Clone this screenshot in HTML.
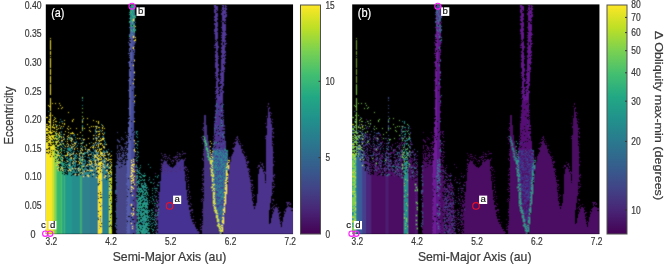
<!DOCTYPE html>
<html><head><meta charset="utf-8"><title>Obliquity maps</title>
<style>
html,body{margin:0;padding:0;background:#fff;width:665px;height:265px;overflow:hidden}
svg{display:block}
text{font-family:"Liberation Sans",Arial,sans-serif;fill:#3a3a3a;stroke:#3a3a3a;stroke-width:0.22px}
.w{fill:#fff;stroke:#fff}
</style></head><body>
<svg width="665" height="265" viewBox="0 0 665 265">
<defs><linearGradient id="vir" x1="0" y1="0" x2="0" y2="1"><stop offset="0" stop-color="#fde725"/><stop offset="0.1" stop-color="#bddf26"/><stop offset="0.2" stop-color="#7ad151"/><stop offset="0.3" stop-color="#44bf70"/><stop offset="0.4" stop-color="#22a884"/><stop offset="0.5" stop-color="#21918c"/><stop offset="0.6" stop-color="#2a788e"/><stop offset="0.7" stop-color="#355f8d"/><stop offset="0.8" stop-color="#414487"/><stop offset="0.9" stop-color="#482475"/><stop offset="1" stop-color="#440154"/></linearGradient>
<filter id="soft" x="0" y="0" width="1" height="1"><feConvolveMatrix order="3" kernelMatrix="0.04 0.1 0.04 0.1 0.44 0.1 0.04 0.1 0.04" edgeMode="duplicate" preserveAlpha="false"/></filter>
<clipPath id="ca"><rect x="46" y="5" width="247" height="229"/></clipPath>
<clipPath id="cb"><rect x="352" y="5" width="247" height="229"/></clipPath></defs>
<rect width="665" height="265" fill="#fff"/>

<rect x="45.8" y="4.4" width="247.25" height="229.7" fill="#000"/>
<g clip-path="url(#ca)"><g stroke-width="1" fill="none" filter="url(#soft)"><path stroke="#f9e721" d="M46.5 109v1M46.5 112v2M46.5 126v1M46.5 130v2M46.5 138v1M46.5 142v2M46.5 145v2M46.5 149v1M46.5 152v1M46.5 155v79M47.5 117v1M47.5 124v1M47.5 126v1M47.5 128v3M47.5 132v1M47.5 136v1M47.5 138v1M47.5 140v1M47.5 143v6M47.5 150v2M47.5 153v81M48.5 105v1M48.5 121v1M48.5 126v2M48.5 130v1M48.5 132v1M48.5 134v2M48.5 137v1M48.5 139v1M48.5 141v2M48.5 144v1M48.5 146v2M48.5 149v4M48.5 154v80M49.5 106v1M49.5 115v1M49.5 119v1M49.5 121v2M49.5 125v1M49.5 131v2M49.5 135v4M49.5 140v3M49.5 146v1M49.5 150v1M49.5 153v81M50.5 38v1M50.5 40v10M50.5 51v4M50.5 56v1M50.5 58v10M50.5 69v6M50.5 76v7M50.5 84v11M50.5 98v13M50.5 112v22M50.5 136v9M50.5 146v10M50.5 157v77M51.5 132v2M51.5 135v1M51.5 138v2M51.5 142v1M51.5 144v1M51.5 146v2M51.5 149v1M51.5 151v1M51.5 155v79M52.5 103v1M52.5 115v1M52.5 126v2M52.5 132v1M52.5 136v2M52.5 145v1M52.5 147v2M52.5 153v2M52.5 156v1M53.5 120v1M53.5 122v1M53.5 124v1M53.5 131v1M53.5 135v1M53.5 137v2M53.5 145v1M53.5 148v2M54.5 119v1M54.5 127v2M54.5 131v1M54.5 135v1M54.5 146v1M54.5 148v1M54.5 159v1M55.5 103v1M55.5 118v1M55.5 121v1M55.5 124v1M55.5 138v1M55.5 147v1M55.5 149v1M56.5 121v1M56.5 126v2M56.5 129v1M56.5 131v1M56.5 134v1M56.5 138v2M56.5 142v2M56.5 150v1M56.5 154v1M56.5 157v1M56.5 165v1M57.5 141v1M57.5 145v1M57.5 150v1M57.5 155v1M57.5 162v1M57.5 164v1M57.5 168v1M58.5 108v1M58.5 128v1M58.5 134v1M58.5 140v1M58.5 145v1M58.5 152v1M58.5 155v1M58.5 159v1M58.5 163v1M58.5 165v1M58.5 167v1M58.5 170v1M59.5 103v1M59.5 125v1M59.5 132v2M59.5 135v2M59.5 142v1M59.5 155v1M59.5 162v1M60.5 105v1M60.5 128v1M60.5 144v1M60.5 152v1M60.5 169v1M61.5 108v1M61.5 126v1M61.5 137v1M61.5 140v1M61.5 148v1M61.5 167v1M62.5 107v1M62.5 123v1M62.5 140v1M62.5 157v1M62.5 160v1M62.5 168v1M62.5 170v1M63.5 126v1M63.5 137v1M63.5 139v1M63.5 143v1M64.5 120v1M64.5 123v2M64.5 134v1M65.5 131v1M65.5 146v1M65.5 155v1M66.5 155v1M67.5 128v1M67.5 136v1M67.5 139v1M67.5 141v1M67.5 143v1M67.5 146v1M67.5 153v3M67.5 161v1M68.5 112v1M68.5 126v1M68.5 129v1M68.5 132v1M68.5 135v1M68.5 137v1M68.5 144v1M68.5 152v1M68.5 170v1M69.5 165v1M69.5 169v1M70.5 128v1M70.5 133v1M70.5 145v1M70.5 155v1M70.5 170v1M71.5 133v1M71.5 138v1M71.5 140v2M71.5 147v1M71.5 154v1M71.5 157v2M72.5 120v2M72.5 132v2M72.5 139v1M72.5 144v1M72.5 163v1M72.5 168v1M73.5 119v1M73.5 133v1M73.5 146v1M73.5 153v1M73.5 158v1M73.5 161v1M74.5 143v1M74.5 145v1M74.5 148v2M75.5 143v1M75.5 168v1M75.5 174v1M76.5 128v1M76.5 153v1M76.5 161v1M77.5 134v1M77.5 138v1M77.5 148v1M78.5 161v1M78.5 168v1M78.5 170v1M78.5 174v1M79.5 138v1M79.5 153v1M79.5 155v1M79.5 158v1M79.5 162v2M80.5 132v1M80.5 150v1M80.5 169v1M81.5 143v1M81.5 148v1M81.5 152v1M81.5 163v1M81.5 172v1M82.5 121v1M82.5 128v1M82.5 150v1M82.5 156v1M82.5 159v1M82.5 173v1M83.5 118v1M83.5 139v1M83.5 153v1M83.5 166v1M83.5 176v1M84.5 128v1M84.5 139v1M84.5 146v1M84.5 171v1M85.5 149v1M86.5 145v1M86.5 165v1M87.5 118v1M87.5 124v1M87.5 151v1M87.5 164v1M87.5 170v1M87.5 175v1M88.5 138v1M88.5 149v1M88.5 155v1M88.5 170v1M88.5 175v2M89.5 127v1M89.5 130v1M89.5 143v1M89.5 149v1M89.5 160v1M89.5 164v1M90.5 131v1M90.5 147v1M90.5 154v1M90.5 161v1M90.5 164v1M90.5 170v1M91.5 126v1M91.5 161v3M91.5 170v1M92.5 147v1M92.5 166v1M92.5 170v1M93.5 120v1M93.5 126v1M93.5 135v1M93.5 138v1M93.5 143v1M93.5 146v2M93.5 174v1M94.5 155v1M94.5 157v1M95.5 126v1M95.5 142v1M95.5 147v1M95.5 155v2M95.5 160v4M95.5 165v1M96.5 121v1M96.5 126v1M96.5 128v1M96.5 131v1M96.5 135v1M96.5 138v1M96.5 140v1M96.5 145v1M96.5 150v2M96.5 157v1M96.5 164v1M96.5 167v3M96.5 177v1M97.5 149v1M97.5 154v1M97.5 157v2M97.5 171v1M98.5 121v3M98.5 127v1M98.5 131v1M98.5 134v1M98.5 136v1M98.5 140v1M98.5 144v3M98.5 151v1M98.5 155v2M98.5 158v3M98.5 163v3M98.5 167v2M98.5 170v4M98.5 175v8M98.5 186v7M98.5 194v2M98.5 197v1M98.5 199v12M98.5 212v2M98.5 215v2M98.5 220v14M99.5 127v1M99.5 131v1M99.5 133v2M99.5 141v1M99.5 149v2M99.5 155v1M99.5 159v1M99.5 162v3M99.5 167v6M99.5 174v5M99.5 180v1M99.5 182v1M99.5 184v6M99.5 191v11M99.5 203v20M99.5 224v1M99.5 226v2M99.5 229v5M100.5 138v1M100.5 140v1M100.5 143v2M100.5 149v1M100.5 151v4M100.5 156v1M100.5 159v1M100.5 162v5M100.5 168v1M100.5 170v1M100.5 173v19M100.5 193v1M100.5 195v2M100.5 198v5M100.5 204v2M100.5 207v3M100.5 211v5M100.5 217v1M100.5 222v4M100.5 227v7M101.5 140v1M101.5 143v1M101.5 148v2M101.5 152v2M101.5 155v1M101.5 158v2M101.5 161v3M101.5 165v1M101.5 167v1M101.5 169v11M101.5 181v13M101.5 195v2M101.5 198v7M101.5 206v17M101.5 224v2M101.5 227v6M102.5 125v1M102.5 127v2M102.5 130v1M102.5 133v1M102.5 138v2M102.5 145v1M102.5 153v1M102.5 155v1M102.5 163v1M103.5 134v1M103.5 138v2M103.5 146v2M103.5 156v1M103.5 164v1M103.5 166v1M104.5 128v1M104.5 147v1M104.5 153v1M104.5 155v1M104.5 161v1M104.5 167v1M104.5 177v1M105.5 155v1M105.5 158v1M105.5 175v2M106.5 144v1M106.5 158v2M106.5 170v1M107.5 152v1M107.5 160v1M107.5 164v2M107.5 170v1M108.5 154v1M108.5 160v1M108.5 172v2M109.5 153v1M109.5 159v1M109.5 176v1M110.5 156v1M110.5 159v1M110.5 161v1M110.5 166v1M111.5 155v1M111.5 159v1M111.5 162v1M111.5 164v1M111.5 169v1M111.5 172v1M111.5 178v1M130.5 176v1M131.5 160v1M131.5 162v1M131.5 165v1M131.5 167v2M131.5 170v1M131.5 172v2M131.5 175v2M131.5 178v1M131.5 180v2M131.5 183v1M131.5 186v2M131.5 189v1M131.5 191v1M131.5 204v2M131.5 213v1M131.5 223v1M132.5 164v2M132.5 168v1M132.5 170v2M132.5 174v2M132.5 178v1M132.5 180v1M132.5 187v1M132.5 195v1M132.5 215v1M132.5 226v1M132.5 228v1M133.5 19v2M133.5 36v2M133.5 47v2M133.5 65v1M133.5 83v1M133.5 159v1M133.5 161v1M133.5 164v1M133.5 166v1M133.5 169v1M133.5 171v1M133.5 177v1M133.5 179v2M133.5 182v1M133.5 188v1M133.5 208v1M133.5 210v1M133.5 213v2M134.5 40v1M134.5 60v1M134.5 72v1M134.5 79v1M134.5 101v1M134.5 121v1M134.5 140v1M134.5 149v2M134.5 164v1M134.5 171v1M134.5 176v1M134.5 184v1M135.5 26v1M135.5 37v1M135.5 39v2M135.5 95v1M135.5 143v1M135.5 151v1M210.5 141v1M210.5 146v1M210.5 150v1M210.5 152v1M210.5 158v1M211.5 143v1M211.5 154v1M211.5 156v1M212.5 151v1M212.5 157v1M221.5 225v1M221.5 227v1M221.5 230v1M222.5 217v1M222.5 220v3M222.5 225v1M222.5 227v5M223.5 209v2M223.5 213v2M223.5 217v7M224.5 192v1M224.5 197v1M224.5 200v1M224.5 203v3M224.5 207v6M225.5 180v1M225.5 182v2M225.5 185v1M225.5 187v3M225.5 192v12M226.5 167v1M226.5 170v6M226.5 177v4M226.5 182v1M226.5 184v10M227.5 163v2M227.5 166v1M227.5 173v3M227.5 177v1M227.5 181v1M228.5 160v1M228.5 162v1M228.5 165v4M229.5 160v1"/>
<path stroke="#c9e127" d="M46.5 121v1M46.5 125v1M47.5 133v1M47.5 142v1M49.5 127v1M51.5 136v1M51.5 148v1M51.5 153v1M53.5 127v1M53.5 144v1M54.5 149v1M54.5 151v1M56.5 133v1M56.5 141v1M56.5 144v1M56.5 162v1M57.5 160v1M58.5 161v1M59.5 137v1M109.5 167v1M109.5 171v1M109.5 173v1M109.5 175v1M109.5 178v3M109.5 182v2M109.5 185v1M109.5 187v3M109.5 191v4M109.5 196v1M109.5 198v8M109.5 207v2M109.5 210v11M109.5 222v4M109.5 227v7M110.5 167v2M110.5 170v3M110.5 178v3M110.5 182v1M110.5 184v3M110.5 188v5M110.5 194v6M110.5 201v1M110.5 203v11M110.5 216v1M110.5 218v2M110.5 221v3M110.5 226v8M111.5 165v1M111.5 173v2M111.5 177v1M111.5 179v5M111.5 185v4M111.5 191v4M111.5 196v7M111.5 205v2M111.5 208v1M111.5 210v3M111.5 214v12M111.5 227v1M111.5 229v5"/>
<path stroke="#21938d" d="M48.5 111v1M52.5 140v1M55.5 150v1M56.5 125v1M57.5 136v1M57.5 159v1M58.5 146v1M59.5 153v1M60.5 127v1M60.5 143v1M60.5 147v1M60.5 157v1M61.5 132v1M61.5 134v1M61.5 141v1M61.5 154v1M61.5 156v1M61.5 163v2M61.5 166v1M61.5 169v1M62.5 121v1M62.5 128v1M62.5 146v1M62.5 161v1M63.5 134v1M63.5 147v1M63.5 155v1M63.5 158v1M63.5 165v1M63.5 169v1M64.5 138v2M64.5 148v1M64.5 155v1M65.5 166v1M65.5 169v2M66.5 160v1M67.5 148v1M68.5 145v2M68.5 148v2M69.5 138v1M69.5 156v1M69.5 166v1M70.5 135v1M70.5 137v1M70.5 148v1M70.5 151v1M70.5 157v1M70.5 159v1M71.5 137v1M71.5 139v1M71.5 143v1M71.5 148v1M72.5 146v1M72.5 148v2M73.5 144v1M73.5 159v1M74.5 134v2M74.5 155v1M74.5 157v1M74.5 159v2M74.5 163v1M74.5 165v2M74.5 171v2M75.5 137v1M75.5 155v1M75.5 160v1M75.5 162v1M76.5 142v1M76.5 146v1M76.5 156v1M76.5 158v1M76.5 172v1M77.5 154v1M78.5 164v1M79.5 164v1M79.5 175v2M80.5 138v1M80.5 143v1M80.5 146v1M80.5 151v2M80.5 156v1M80.5 158v2M80.5 165v1M80.5 175v1M82.5 98v1M82.5 100v1M82.5 105v1M82.5 119v2M82.5 125v2M82.5 129v1M82.5 138v1M82.5 146v2M82.5 153v2M82.5 157v2M82.5 163v1M82.5 165v1M82.5 168v1M83.5 142v1M83.5 154v1M83.5 157v1M83.5 169v1M83.5 174v1M84.5 154v1M84.5 159v2M84.5 164v1M84.5 170v1M85.5 147v1M85.5 152v2M85.5 163v1M85.5 173v1M86.5 144v1M86.5 172v1M87.5 149v1M87.5 153v1M87.5 165v1M87.5 169v1M87.5 174v1M88.5 162v1M88.5 166v1M88.5 172v3M89.5 151v1M89.5 161v1M89.5 163v1M89.5 173v1M90.5 151v1M90.5 159v1M90.5 167v2M90.5 174v1M91.5 142v1M91.5 157v1M91.5 159v1M91.5 164v1M91.5 166v1M91.5 172v2M92.5 155v1M92.5 163v1M92.5 169v1M92.5 171v1M93.5 139v1M93.5 145v1M93.5 148v1M93.5 153v1M93.5 156v1M93.5 158v1M93.5 160v1M93.5 167v1M93.5 173v1M93.5 175v1M94.5 145v1M94.5 154v1M94.5 158v3M94.5 167v1M95.5 130v2M95.5 157v1M95.5 168v1M95.5 177v1M96.5 154v1M96.5 156v1M96.5 165v2M96.5 175v1M97.5 126v1M97.5 131v1M97.5 138v1M97.5 147v1M97.5 152v1M98.5 147v1M98.5 152v1M98.5 161v1M99.5 140v1M99.5 148v1M99.5 157v2M99.5 173v1M100.5 157v1M100.5 161v1M100.5 167v1M100.5 172v1M101.5 124v1M101.5 131v1M101.5 139v1M101.5 154v1M102.5 168v1M103.5 137v1M103.5 151v2M103.5 177v1M104.5 132v2M104.5 138v1M104.5 140v2M104.5 143v1M104.5 160v1M105.5 142v1M105.5 170v1M106.5 152v1M106.5 165v1M107.5 154v1M108.5 155v1M108.5 157v1M108.5 167v2M109.5 165v1M110.5 176v1M111.5 166v1M111.5 171v1M111.5 175v1M136.5 131v3M136.5 136v1M136.5 143v1M136.5 147v1M136.5 158v1M136.5 160v1M136.5 165v2M136.5 173v1M136.5 176v1M136.5 179v1M136.5 182v1M136.5 185v1M136.5 196v1M136.5 200v1M136.5 210v1M136.5 214v1M136.5 224v2M136.5 227v1M136.5 230v2M136.5 233v1M137.5 131v1M137.5 134v1M137.5 137v1M137.5 141v1M137.5 144v2M137.5 148v1M137.5 151v1M137.5 154v1M137.5 157v1M137.5 160v1M137.5 167v1M137.5 169v2M137.5 175v4M137.5 182v1M137.5 191v1M137.5 201v2M137.5 205v2M137.5 208v2M137.5 213v3M137.5 223v3M137.5 228v1M137.5 230v1M138.5 141v1M138.5 152v1M138.5 156v1M138.5 171v1M138.5 181v1M138.5 183v1M138.5 186v1M138.5 189v1M138.5 212v1M146.5 211v1M147.5 187v1M147.5 192v1M147.5 208v1M147.5 213v1M147.5 217v2M147.5 224v2M148.5 164v1M148.5 195v1M148.5 216v2M148.5 223v1M148.5 233v1M149.5 177v1M149.5 179v1M149.5 210v2M149.5 215v1M149.5 217v1M149.5 225v1M149.5 228v1M149.5 232v1M150.5 167v1M150.5 182v1M150.5 197v1M150.5 219v1M151.5 210v1M151.5 213v1M151.5 215v1M151.5 226v1M151.5 228v1M152.5 193v1M152.5 196v1M152.5 198v1M152.5 210v1M152.5 217v1M152.5 225v1M152.5 231v1M153.5 222v1M153.5 230v1M154.5 188v1M154.5 203v1M154.5 205v1M154.5 219v1M154.5 227v1M155.5 188v1M155.5 214v1M155.5 224v1M156.5 190v1M156.5 223v1M156.5 233v1M157.5 177v1M157.5 202v1M157.5 206v1M157.5 215v1M158.5 175v1M226.5 150v1M226.5 153v1M226.5 160v1M226.5 164v1M226.5 169v1M227.5 150v2M227.5 154v1M227.5 158v1M227.5 162v1M227.5 165v1M227.5 167v6M227.5 179v1"/>
<path stroke="#cfe12d" d="M52.5 130v1M52.5 135v1M52.5 139v1M52.5 142v1M52.5 146v1M52.5 149v4M52.5 155v1M52.5 157v77M53.5 125v1M53.5 136v1M53.5 141v2M53.5 146v2M53.5 151v5M53.5 157v77"/>
<path stroke="#8dd54b" d="M54.5 117v1M54.5 138v2M54.5 145v1M54.5 147v1M54.5 150v1M54.5 152v7M54.5 160v74M55.5 132v2M55.5 135v1M55.5 137v1M55.5 141v2M55.5 144v1M55.5 153v2M55.5 156v3M55.5 160v1M55.5 162v72"/>
<path stroke="#5dc95d" d="M56.5 135v2M56.5 147v1M56.5 151v1M56.5 155v2M56.5 158v4M56.5 163v2M56.5 166v68"/>
<path stroke="#39b76f" d="M57.5 125v1M57.5 129v1M57.5 133v1M57.5 138v2M57.5 142v1M57.5 146v1M57.5 148v1M57.5 151v4M57.5 156v2M57.5 161v1M57.5 163v1M57.5 165v3M57.5 169v65M58.5 135v1M58.5 137v2M58.5 141v1M58.5 148v1M58.5 151v1M58.5 153v2M58.5 158v1M58.5 162v1M58.5 166v1M58.5 168v2M58.5 171v63M59.5 122v1M59.5 139v1M59.5 144v2M59.5 150v1M59.5 156v2M59.5 161v1M59.5 163v1M59.5 167v1M59.5 171v63M60.5 136v1M60.5 149v1M60.5 155v1M60.5 158v2M60.5 161v2M60.5 166v1M60.5 168v1M60.5 170v64"/>
<path stroke="#277b8d" d="M60.5 119v1M60.5 134v1M60.5 163v1M61.5 121v1M61.5 131v1M61.5 138v1M61.5 142v1M61.5 145v1M62.5 141v1M63.5 136v1M64.5 171v1M65.5 148v1M66.5 158v1M66.5 169v1M68.5 150v1M69.5 163v1M70.5 149v2M70.5 154v1M70.5 163v1M72.5 138v1M72.5 147v1M72.5 167v1M73.5 135v1M73.5 154v1M74.5 167v1M74.5 170v1M75.5 144v1M75.5 163v1M76.5 141v1M76.5 155v1M76.5 168v1M77.5 157v1M77.5 165v1M78.5 143v1M78.5 167v1M79.5 154v1M79.5 160v1M79.5 170v1M80.5 148v1M80.5 168v1M81.5 140v1M81.5 149v1M81.5 157v1M81.5 174v2M82.5 143v1M82.5 174v1M83.5 140v1M83.5 161v1M83.5 165v1M84.5 156v1M84.5 161v1M84.5 166v1M86.5 166v1M86.5 168v1M86.5 170v1M87.5 150v1M87.5 166v1M88.5 157v1M89.5 154v1M89.5 167v1M89.5 171v1M90.5 160v1M90.5 166v1M91.5 146v1M91.5 152v3M91.5 168v2M92.5 152v1M92.5 156v1M92.5 160v1M92.5 164v1M92.5 167v1M93.5 152v1M93.5 159v1M93.5 162v1M94.5 156v1M95.5 129v1M95.5 133v1M95.5 137v2M95.5 152v1M95.5 173v2M96.5 127v1M96.5 132v1M96.5 139v1M96.5 152v1M97.5 168v1M98.5 137v1M98.5 142v2M98.5 153v1M98.5 162v1M98.5 183v1M98.5 185v1M98.5 196v1M98.5 214v1M98.5 217v2M99.5 129v1M99.5 136v1M99.5 143v1M99.5 165v2M99.5 179v1M99.5 190v1M99.5 223v1M99.5 225v1M99.5 228v1M100.5 130v1M100.5 169v1M100.5 203v1M100.5 210v1M100.5 218v4M101.5 157v1M101.5 180v1M101.5 194v1M101.5 205v1M101.5 226v1M101.5 233v1M102.5 167v1M102.5 175v1M103.5 126v1M103.5 136v1M103.5 150v1M103.5 173v1M104.5 148v1M104.5 154v1M104.5 176v1M105.5 144v1M105.5 152v1M105.5 167v1M106.5 167v1M106.5 172v2M106.5 175v1M107.5 171v1M107.5 176v1M108.5 149v1M108.5 159v1M109.5 154v1M109.5 162v1M109.5 168v1M109.5 184v1M109.5 190v1M110.5 163v1M110.5 174v1M110.5 187v1M110.5 202v1M110.5 215v1M110.5 220v1M110.5 224v1M111.5 151v1M111.5 189v2M111.5 203v1M111.5 207v1M111.5 209v1M111.5 228v1M137.5 190v1M138.5 172v1M138.5 188v1M138.5 205v2M138.5 214v1M138.5 219v1M138.5 222v2M138.5 233v1M139.5 172v1M139.5 197v1M139.5 201v1M139.5 209v2M140.5 206v1M140.5 214v1M140.5 224v2M140.5 229v1M140.5 231v1M141.5 186v1M141.5 211v1M141.5 213v1M141.5 219v1M141.5 222v1M141.5 226v1M142.5 185v1M142.5 192v1M142.5 195v1M142.5 214v1M142.5 219v1M142.5 223v1M142.5 225v1M143.5 198v1M143.5 217v1M143.5 220v3M143.5 232v1M144.5 183v2M144.5 187v1M144.5 193v1M144.5 200v1M144.5 211v2M144.5 218v1M144.5 220v3M144.5 225v1M144.5 230v1M145.5 189v2M145.5 196v1M145.5 199v1M145.5 202v1M145.5 204v1M145.5 216v1M145.5 228v3M146.5 198v1M146.5 200v1M146.5 202v1M146.5 210v1M146.5 216v1M146.5 226v1M147.5 214v1M147.5 220v1M147.5 231v3M148.5 180v1M148.5 189v1M148.5 204v1M148.5 210v1M148.5 232v1M149.5 221v1M149.5 223v1M150.5 217v1M150.5 221v1M150.5 224v1M151.5 201v1M151.5 209v1M151.5 218v1M151.5 223v1M152.5 223v1M153.5 179v1M153.5 200v1M153.5 208v1M153.5 212v1M153.5 219v1M153.5 229v1M153.5 233v1M154.5 195v1M154.5 217v1M154.5 224v1M155.5 203v1M155.5 218v1M155.5 225v1M156.5 196v1M156.5 199v1M157.5 176v1M157.5 185v1M157.5 212v1M157.5 214v1M157.5 229v1M158.5 182v1M158.5 212v1"/>
<path stroke="#51c363" d="M61.5 136v1M61.5 144v1M61.5 149v3M61.5 153v1M61.5 157v1M61.5 159v2M61.5 162v1M61.5 168v1M61.5 171v63"/>
<path stroke="#27a581" d="M62.5 143v1M62.5 155v1M62.5 158v2M62.5 162v6M62.5 169v1M62.5 172v1M62.5 174v60M63.5 144v1M63.5 150v1M63.5 163v2M63.5 167v1M63.5 170v64"/>
<path stroke="#3fb775" d="M64.5 145v1M64.5 150v1M64.5 152v1M64.5 161v1M64.5 163v1M64.5 165v1M64.5 167v1M64.5 169v1M64.5 173v1M64.5 175v59"/>
<path stroke="#21998d" d="M65.5 141v1M65.5 156v2M65.5 162v1M65.5 164v1M65.5 167v1M65.5 171v1M65.5 174v60M66.5 144v1M66.5 151v1M66.5 162v1M66.5 164v2M66.5 172v1M66.5 174v60M67.5 138v1M67.5 149v1M67.5 151v2M67.5 157v2M67.5 160v1M67.5 164v1M67.5 166v2M67.5 170v1M67.5 175v59M68.5 154v1M68.5 159v1M68.5 161v1M68.5 163v3M68.5 167v2M68.5 171v63M69.5 137v1M69.5 139v1M69.5 147v4M69.5 153v3M69.5 158v3M69.5 162v1M69.5 164v1M69.5 167v2M69.5 170v1M69.5 172v62M70.5 138v1M70.5 140v1M70.5 153v1M70.5 158v1M70.5 160v3M70.5 164v6M70.5 171v63M71.5 146v1M71.5 150v1M71.5 152v1M71.5 159v2M71.5 166v6M71.5 173v2M71.5 176v58"/>
<path stroke="#278d8d" d="M72.5 153v2M72.5 160v1M72.5 162v1M72.5 165v2M72.5 169v1M72.5 171v3M72.5 175v59M73.5 141v1M73.5 151v2M73.5 156v1M73.5 162v4M73.5 168v5M73.5 175v59M74.5 142v1M74.5 151v1M74.5 158v1M74.5 162v1M74.5 168v1M74.5 174v60M75.5 139v1M75.5 142v1M75.5 147v1M75.5 154v1M75.5 156v3M75.5 161v1M75.5 164v3M75.5 169v1M75.5 172v2M75.5 175v59M76.5 170v2M76.5 174v1M76.5 176v58M77.5 145v1M77.5 150v1M77.5 164v1M77.5 168v2M77.5 172v1M77.5 176v58M78.5 151v1M78.5 158v1M78.5 169v1M78.5 171v1M78.5 175v59M79.5 156v1M79.5 159v1M79.5 166v4M79.5 171v4M79.5 177v57"/>
<path stroke="#3fab75" d="M80.5 153v1M80.5 157v1M80.5 160v3M80.5 170v1M80.5 172v2M80.5 176v58M81.5 145v1M81.5 153v1M81.5 159v2M81.5 162v1M81.5 165v4M81.5 176v58"/>
<path stroke="#7bcf51" d="M82.5 97v1M82.5 108v1M82.5 112v1M82.5 116v1M82.5 122v1M82.5 127v1M82.5 130v1M82.5 135v1M82.5 142v1M82.5 149v1M82.5 160v1M82.5 166v1M82.5 169v1"/>
<path stroke="#2d818d" d="M82.5 155v1M82.5 161v2M82.5 164v1M82.5 167v1M82.5 170v3M82.5 175v59M83.5 159v1M83.5 163v2M83.5 170v4M83.5 175v1M83.5 177v57M84.5 152v2M84.5 163v1M84.5 165v1M84.5 168v2M84.5 172v62M85.5 148v1M85.5 156v1M85.5 160v3M85.5 166v4M85.5 172v1M85.5 174v1M85.5 176v58M86.5 152v1M86.5 169v1M86.5 171v1M86.5 173v61M87.5 152v1M87.5 157v1M87.5 161v1M87.5 172v2M87.5 176v58M88.5 150v1M88.5 152v1M88.5 154v1M88.5 160v1M88.5 164v1M88.5 177v57M89.5 150v1M89.5 157v2M89.5 162v1M89.5 165v1M89.5 168v3M89.5 172v1M89.5 175v59"/>
<path stroke="#2d7b8d" d="M90.5 165v1M90.5 169v1M90.5 171v2M90.5 175v59M91.5 165v1M91.5 171v1M91.5 174v60M92.5 145v1M92.5 158v1M92.5 165v1M92.5 173v3M92.5 177v57M93.5 149v1M93.5 154v1M93.5 164v1M93.5 166v1M93.5 168v5M93.5 176v58M94.5 135v1M94.5 144v1M94.5 150v2M94.5 161v1M94.5 163v4M94.5 168v4M94.5 173v61M95.5 143v1M95.5 149v3M95.5 154v1M95.5 159v1M95.5 164v1M95.5 169v4M95.5 175v2M95.5 178v56M96.5 137v1M96.5 142v1M96.5 144v1M96.5 153v1M96.5 155v1M96.5 159v2M96.5 163v1M96.5 171v2M96.5 174v1M96.5 176v1M96.5 178v56M97.5 143v1M97.5 153v1M97.5 155v1M97.5 159v2M97.5 162v1M97.5 164v4M97.5 170v1M97.5 172v1M97.5 174v2M97.5 177v57"/>
<path stroke="#27818d" d="M102.5 136v1M102.5 144v1M102.5 152v1M102.5 154v1M102.5 160v2M102.5 164v3M102.5 169v3M102.5 173v2M102.5 176v58M103.5 154v2M103.5 157v1M103.5 159v5M103.5 165v1M103.5 167v6M103.5 174v3M103.5 178v56M104.5 144v1M104.5 146v1M104.5 151v2M104.5 157v3M104.5 162v1M104.5 164v3M104.5 168v8M104.5 178v56M105.5 160v7M105.5 168v1M105.5 171v3M105.5 177v57M106.5 150v2M106.5 161v1M106.5 166v1M106.5 169v1M106.5 171v1M106.5 176v1M106.5 178v1M106.5 180v54M107.5 151v1M107.5 163v1M107.5 166v2M107.5 169v1M107.5 172v1M107.5 174v2M107.5 177v57M108.5 158v1M108.5 163v2M108.5 166v1M108.5 174v4M108.5 179v55"/>
<path stroke="#33638d" d="M115.5 166v1M115.5 174v1M115.5 177v1M115.5 180v1M115.5 190v4M115.5 199v1M115.5 211v1M115.5 223v1M115.5 225v2M116.5 165v1M116.5 170v1M116.5 176v1M116.5 181v1M116.5 183v3M116.5 190v2M116.5 196v1M116.5 203v1M116.5 205v2M116.5 212v2M116.5 216v2M116.5 220v1M116.5 222v1M116.5 224v1"/>
<path stroke="#454587" d="M116.5 153v1M116.5 162v1M116.5 166v4M116.5 171v5M116.5 177v4M116.5 186v4M116.5 192v3M116.5 198v1M116.5 200v1M116.5 202v1M116.5 204v1M116.5 207v5M116.5 214v2M116.5 219v1M116.5 221v1M116.5 223v1M116.5 226v3M116.5 230v3M117.5 132v1M117.5 139v2M117.5 145v4M117.5 151v1M117.5 154v5M117.5 160v4M117.5 165v69M118.5 140v2M118.5 150v1M118.5 153v1M118.5 158v2M118.5 161v73M119.5 141v2M119.5 145v1M119.5 151v1M119.5 153v8M119.5 162v5M119.5 168v66M120.5 145v1M120.5 149v1M120.5 153v1M120.5 157v2M120.5 160v1M120.5 162v72M121.5 137v1M121.5 139v1M121.5 146v3M121.5 150v1M121.5 155v1M121.5 157v3M121.5 162v1M121.5 164v2M121.5 167v67M122.5 138v1M122.5 147v3M122.5 152v1M122.5 154v3M122.5 158v1M122.5 160v1M122.5 162v1M122.5 164v70M123.5 139v1M123.5 150v1M123.5 152v6M123.5 160v74M124.5 143v1M124.5 148v1M124.5 150v1M124.5 155v1M124.5 159v5M124.5 165v69M125.5 132v1M125.5 143v1M125.5 146v2M125.5 152v2M125.5 155v1M125.5 157v2M125.5 162v1M125.5 165v69M126.5 135v1M126.5 137v1M126.5 141v4M126.5 146v1M126.5 148v1M126.5 150v1M126.5 152v1M126.5 158v1M126.5 160v5M126.5 166v8M126.5 175v1M126.5 177v6M126.5 185v4M126.5 190v10M126.5 201v2M126.5 204v3M126.5 208v1M126.5 210v3M126.5 214v2M126.5 217v1M126.5 219v4M126.5 224v3M126.5 228v2M126.5 231v2M127.5 136v1M127.5 156v2M127.5 186v1M127.5 188v1M127.5 192v2M127.5 202v1M127.5 204v1M127.5 220v1M127.5 223v1"/>
<path stroke="#575dab" d="M126.5 154v1M126.5 165v1M126.5 174v1M126.5 176v1M126.5 183v2M126.5 189v1M126.5 200v1M126.5 203v1M126.5 207v1M126.5 209v1M126.5 213v1M126.5 216v1M126.5 218v1M126.5 223v1M126.5 227v1M126.5 230v1M126.5 233v1M127.5 142v1M127.5 148v2M127.5 153v3M127.5 158v1M127.5 160v26M127.5 187v1M127.5 189v3M127.5 194v2M127.5 197v5M127.5 203v1M127.5 205v15M127.5 222v1M127.5 224v10M128.5 42v1M128.5 53v1M128.5 62v1M128.5 80v1M128.5 90v1M128.5 108v1M128.5 118v1M128.5 122v2M128.5 127v6M128.5 134v1M128.5 136v7M128.5 144v34M128.5 179v10M128.5 190v26M128.5 217v17M129.5 27v1M129.5 34v1M129.5 38v1M129.5 40v1M129.5 43v3M129.5 48v4M129.5 53v1M129.5 55v1M129.5 57v1M129.5 61v6M129.5 69v8M129.5 78v20M129.5 99v17M129.5 117v2M129.5 120v17M129.5 138v78M129.5 217v17M130.5 22v1M130.5 27v1M130.5 30v1M130.5 32v1M130.5 34v5M130.5 40v2M130.5 43v7M130.5 52v18M130.5 71v14M130.5 86v53M130.5 140v20M131.5 22v3M131.5 27v3M131.5 31v2M131.5 34v1M131.5 36v24"/>
<path stroke="#278193" d="M129.5 12v1M130.5 6v1M130.5 9v1M130.5 14v1M130.5 16v1M130.5 19v2M130.5 23v1M130.5 26v1M130.5 28v1M130.5 31v1M130.5 33v1M131.5 7v1M131.5 15v1M131.5 17v1M132.5 5v1M132.5 8v1M132.5 12v1M132.5 17v3M132.5 32v1M133.5 8v1M133.5 13v2M133.5 22v1M133.5 24v1M133.5 28v1M133.5 35v1M134.5 8v1M134.5 12v1M134.5 21v1M134.5 23v2M135.5 15v1"/>
<path stroke="#27a587" d="M129.5 14v1M129.5 22v1M130.5 7v2M130.5 10v1M130.5 12v1M130.5 15v1M130.5 17v1M130.5 21v1M130.5 24v2M130.5 29v1M131.5 5v2M131.5 8v1M131.5 11v1M131.5 14v1M131.5 18v1M131.5 25v2M132.5 9v1M132.5 13v2M132.5 16v1M132.5 20v1M132.5 23v1M132.5 26v1M132.5 31v1M132.5 34v1M133.5 7v1M133.5 9v1M133.5 11v2M133.5 17v2M133.5 26v1M133.5 30v1M134.5 10v1M134.5 13v1M134.5 15v1M134.5 19v2M134.5 27v1M134.5 30v1M134.5 32v1M135.5 6v1M135.5 29v2"/>
<path stroke="#336f99" d="M129.5 18v1M129.5 35v1M131.5 10v1M131.5 13v1M131.5 16v1M131.5 19v1M131.5 21v1M131.5 33v1M131.5 35v1M132.5 7v1M132.5 11v1M133.5 5v1M133.5 10v1M133.5 15v1M134.5 5v2M134.5 9v1M134.5 11v1M134.5 14v1M134.5 17v1M134.5 36v1M135.5 16v1"/>
<path stroke="#45bd6f" d="M129.5 21v1M129.5 36v1M130.5 11v1M130.5 13v1M130.5 18v1M131.5 9v1M131.5 12v1M131.5 20v1M131.5 30v1M132.5 6v1M132.5 10v1M132.5 15v1M132.5 21v2M133.5 6v1M133.5 16v1M133.5 25v1M133.5 29v1M134.5 7v1M134.5 16v1M134.5 18v1M134.5 25v1M134.5 28v1M134.5 31v1M135.5 17v1M203.5 136v1M204.5 137v3M204.5 141v1M205.5 140v4M205.5 145v1M206.5 143v3M206.5 147v3M207.5 148v4M207.5 153v1M207.5 156v1M208.5 151v1M208.5 153v5M208.5 159v1M209.5 157v4"/>
<path stroke="#454b99" d="M130.5 160v16M130.5 177v16M130.5 194v27M130.5 222v12M131.5 60v2M131.5 63v58M131.5 122v6M131.5 129v7M131.5 137v23M131.5 161v1M131.5 163v2M131.5 166v1M131.5 169v1M131.5 171v1M131.5 174v1M131.5 177v1M131.5 182v1M131.5 184v2M131.5 188v1M131.5 190v1M131.5 193v11M131.5 206v2M131.5 209v4M131.5 214v3M131.5 218v5M131.5 224v10M132.5 24v1M132.5 27v4M132.5 33v1M132.5 35v14M132.5 50v30M132.5 81v9M132.5 91v41M132.5 133v31M132.5 166v2M132.5 169v1M132.5 172v2M132.5 176v2M132.5 179v1M132.5 181v3M132.5 185v2M132.5 188v7M132.5 196v10M132.5 207v2M132.5 210v5M132.5 216v3M132.5 220v6M132.5 227v1M132.5 229v5M133.5 21v1M133.5 23v1M133.5 27v1M133.5 31v4M133.5 38v1M133.5 40v7M133.5 49v2M133.5 52v8M133.5 61v1M133.5 63v2M133.5 66v17M133.5 84v17M133.5 102v29M133.5 132v16M133.5 149v10M133.5 160v1M133.5 162v2M133.5 165v1M133.5 167v2M133.5 170v1M133.5 172v5M133.5 178v1M133.5 183v1M133.5 185v3M133.5 189v2M133.5 192v8M133.5 201v5M133.5 207v1M133.5 209v1M133.5 211v2M133.5 216v3M133.5 220v2M133.5 223v10M134.5 26v1M134.5 29v1M134.5 33v3M134.5 37v1M134.5 41v4M134.5 46v1M134.5 49v4M134.5 54v1M134.5 59v1M134.5 61v1M134.5 71v1M134.5 73v1M134.5 75v1M134.5 86v2M134.5 96v2M134.5 100v1M134.5 102v2M134.5 105v1M134.5 111v2M134.5 118v1M134.5 131v2M134.5 134v1M134.5 141v2M134.5 144v2M134.5 147v2M134.5 151v5M134.5 159v1M134.5 162v2M134.5 165v3M134.5 170v1M134.5 178v1M134.5 185v1M134.5 193v2M134.5 196v2M134.5 203v1M134.5 205v2M134.5 208v1M134.5 212v2M134.5 220v3M134.5 226v1M134.5 228v2M134.5 231v2M135.5 22v1M135.5 42v1M135.5 230v1"/>
<path stroke="#4b2d7b" d="M133.5 181v1M133.5 191v1M133.5 215v1M133.5 222v1M134.5 156v1M134.5 160v2M134.5 168v2M134.5 172v4M134.5 179v5M134.5 186v7M134.5 195v1M134.5 198v5M134.5 204v1M134.5 207v1M134.5 209v1M134.5 211v1M134.5 214v6M134.5 224v2M134.5 227v1M134.5 230v1M134.5 233v1M135.5 156v1M135.5 159v1M135.5 166v2M135.5 169v2M135.5 172v1M135.5 174v34M135.5 209v21M135.5 231v3M136.5 154v1M136.5 156v1M136.5 161v1M136.5 164v1M136.5 167v1M136.5 169v3M136.5 175v1M136.5 177v2M136.5 180v2M136.5 183v2M136.5 186v6M136.5 193v3M136.5 198v2M136.5 201v9M136.5 212v2M136.5 215v9M136.5 226v1M136.5 228v2M136.5 232v1M137.5 152v1M137.5 162v1M137.5 185v1M137.5 189v1M137.5 198v1M137.5 203v1M137.5 217v1M137.5 231v1M154.5 182v1M154.5 186v1M154.5 201v1M154.5 220v1M155.5 173v1M155.5 190v1M155.5 196v2M155.5 207v1M155.5 209v3M155.5 213v1M155.5 215v2M155.5 222v1M155.5 230v1M155.5 232v1M156.5 200v2M156.5 204v3M156.5 209v3M156.5 215v2M156.5 218v3M156.5 222v1M156.5 224v1M156.5 227v1M156.5 229v1M156.5 231v2M157.5 184v1M157.5 188v1M157.5 191v1M157.5 201v1M157.5 204v2M157.5 207v1M157.5 210v1M157.5 213v1M157.5 217v3M157.5 224v1M157.5 226v1M157.5 230v1M157.5 233v1M158.5 192v1M158.5 194v1M158.5 197v1M158.5 200v1M158.5 203v3M158.5 208v1M158.5 210v2M158.5 213v1M159.5 182v1M159.5 192v1M160.5 169v1M161.5 153v1M161.5 159v2M161.5 163v2M161.5 166v1M161.5 168v1M161.5 170v1M161.5 173v1M162.5 155v1M162.5 160v1M162.5 164v2M162.5 167v1M162.5 170v1M163.5 157v1M163.5 164v1M163.5 166v1M163.5 168v1M163.5 173v1M164.5 154v1M164.5 156v1M164.5 164v1M164.5 169v2M164.5 172v1M165.5 154v1M165.5 156v1M165.5 158v1M165.5 161v1M165.5 163v2M165.5 167v1M165.5 170v1M166.5 156v1M166.5 161v3M166.5 167v1M167.5 158v1M167.5 160v1M167.5 166v2M167.5 170v2M167.5 173v1M168.5 157v1M168.5 165v1M168.5 170v1M169.5 155v1M169.5 158v1M169.5 164v1M170.5 159v1M170.5 168v1M170.5 171v1M171.5 161v1M171.5 170v2M172.5 160v1M172.5 163v1M172.5 169v1M173.5 157v1M173.5 160v2M174.5 157v1M174.5 166v1M174.5 169v1M175.5 156v2M175.5 159v1M175.5 168v1M175.5 171v1M176.5 156v1M176.5 158v1M176.5 160v1M176.5 162v3M176.5 166v1M176.5 169v1M176.5 171v1M177.5 152v1M177.5 154v1M177.5 156v2M177.5 160v3M177.5 166v1M178.5 159v1M179.5 153v2M179.5 156v1M179.5 159v1M179.5 161v1M179.5 165v1M179.5 167v3M180.5 154v1M180.5 156v1M180.5 166v5M181.5 162v2M182.5 151v1M182.5 154v1M182.5 159v1M182.5 164v1M182.5 166v1M183.5 153v1M183.5 160v1M183.5 166v1M184.5 153v1M184.5 159v2M184.5 167v2M184.5 171v1M184.5 174v1M185.5 153v1M185.5 158v1M185.5 166v2M185.5 169v1M185.5 175v1M185.5 181v1M186.5 167v1M186.5 170v1M186.5 177v1M186.5 179v1M186.5 190v1M187.5 169v1M187.5 174v1M187.5 181v1M187.5 190v1M187.5 197v1M187.5 200v1M188.5 171v1M188.5 177v1M188.5 180v1M188.5 184v1M188.5 186v2M188.5 189v1M188.5 194v1M188.5 196v1M188.5 199v1M188.5 201v1M189.5 191v2M189.5 205v2M189.5 210v1M190.5 196v1M190.5 198v1M190.5 203v1M190.5 206v1M190.5 210v2M190.5 214v1M190.5 218v1M191.5 204v1M191.5 209v2M191.5 219v1M192.5 209v2M192.5 212v1M192.5 219v1M192.5 223v2M193.5 216v1M193.5 219v1M193.5 222v1M194.5 224v2M195.5 222v1M195.5 227v1M197.5 229v1M197.5 233v1M198.5 231v2M199.5 232v1M200.5 219v1M200.5 224v1M200.5 227v1M200.5 229v1M201.5 137v1M201.5 189v1M201.5 199v1M201.5 201v1M201.5 226v1M201.5 229v1M202.5 129v1M202.5 136v1M202.5 138v2M202.5 143v1M202.5 158v2M202.5 170v1M202.5 174v2M202.5 178v1M202.5 180v1M202.5 183v1M202.5 187v1M202.5 189v1M202.5 191v1M202.5 198v1M202.5 200v1M202.5 209v1M202.5 211v2M202.5 215v1M202.5 221v1M202.5 223v1M202.5 225v1M202.5 227v2M203.5 123v1M203.5 127v2M203.5 130v1M203.5 139v3M203.5 149v1M203.5 151v1M203.5 153v3M203.5 160v1M203.5 168v2M203.5 172v1M203.5 174v1M203.5 179v1M203.5 183v3M203.5 188v1M203.5 191v1M203.5 195v1M203.5 199v1M203.5 202v1M203.5 206v1M203.5 208v1M203.5 212v1M204.5 122v2M204.5 132v1M204.5 134v1M204.5 164v1M204.5 169v1M204.5 174v1M204.5 179v1M228.5 169v2M228.5 174v1M229.5 157v2M229.5 161v2M229.5 164v1M231.5 156v2M232.5 148v1M232.5 154v1M233.5 143v1M233.5 148v2M234.5 142v1M234.5 147v1M235.5 139v1M235.5 142v2M236.5 137v1M236.5 139v1M237.5 136v3M238.5 139v1M239.5 141v1M240.5 143v1M240.5 145v3M241.5 149v2M242.5 145v1M242.5 149v1M243.5 151v1M243.5 154v1M244.5 152v1M244.5 156v2M245.5 157v1M245.5 159v2M246.5 156v1M246.5 158v1M246.5 162v1M246.5 166v1M247.5 161v3M247.5 165v1M248.5 161v2M248.5 168v3M248.5 172v1M248.5 176v1M249.5 169v1M249.5 171v1M249.5 175v1M249.5 177v1M250.5 176v1M250.5 180v1M250.5 182v2M250.5 185v1M250.5 187v1M251.5 180v1M251.5 184v1M251.5 186v1M251.5 190v1M251.5 192v2M252.5 180v1M252.5 184v2M252.5 188v1M252.5 190v1M252.5 197v1M253.5 187v1M253.5 194v1M253.5 196v1M253.5 199v1M253.5 203v1M253.5 206v1M253.5 209v1M254.5 195v1M254.5 206v1M257.5 167v1M258.5 165v2M259.5 165v2M260.5 162v1M261.5 164v1M261.5 168v1M262.5 163v3M263.5 166v2M263.5 169v1M264.5 171v2M264.5 176v1M265.5 123v1M265.5 136v1M265.5 138v1M265.5 172v2M265.5 181v1M265.5 183v1M265.5 187v1M266.5 116v1M266.5 126v2M266.5 135v1M267.5 106v1M267.5 123v1M268.5 103v2M268.5 118v1M269.5 107v2M269.5 114v1M270.5 112v1M270.5 115v1M271.5 113v1M271.5 121v1M271.5 142v1M271.5 208v1M272.5 119v1M272.5 122v1M272.5 128v2M272.5 131v1M272.5 136v1M272.5 141v1M272.5 143v1M272.5 146v2M272.5 152v1M272.5 168v1M272.5 170v2M272.5 177v1M272.5 181v1M272.5 186v1M272.5 188v1M272.5 193v1M272.5 199v1M272.5 203v1M272.5 207v1M272.5 211v1M272.5 214v1M273.5 128v1M273.5 132v2M273.5 136v2M273.5 144v1M273.5 152v1M273.5 157v1M273.5 164v2M273.5 175v2M273.5 180v2M273.5 183v1M273.5 186v2M273.5 191v1M273.5 199v2M273.5 206v1M273.5 208v2M274.5 161v1M274.5 174v2M274.5 177v1M274.5 184v1M274.5 186v1M274.5 205v1M274.5 209v1M276.5 204v1M276.5 207v1M277.5 208v2M278.5 207v1M278.5 210v1M279.5 212v2M279.5 217v1M279.5 219v1M280.5 212v1M280.5 216v1M280.5 222v1M280.5 224v1M280.5 226v1M281.5 221v1M281.5 227v1M284.5 211v2M285.5 209v1M285.5 212v1M286.5 202v1M286.5 208v2M287.5 202v4M288.5 202v2M288.5 206v1M289.5 202v1M289.5 204v1M290.5 203v2M290.5 207v2M291.5 208v2M292.5 208v1M292.5 212v2"/>
<path stroke="#27ab81" d="M137.5 171v1M138.5 187v1M138.5 200v1M138.5 207v1M138.5 209v1M138.5 218v1M138.5 220v2M138.5 225v1M138.5 228v1M138.5 232v1M139.5 170v1M139.5 173v1M139.5 179v1M139.5 194v1M139.5 196v1M139.5 198v1M139.5 206v2M139.5 218v1M139.5 224v2M139.5 227v1M139.5 232v1M140.5 176v1M140.5 189v1M140.5 199v1M140.5 202v2M140.5 207v1M140.5 215v1M140.5 220v1M140.5 228v1M141.5 191v1M141.5 195v1M141.5 200v1M141.5 206v1M141.5 209v1M141.5 215v1M141.5 231v1M142.5 179v1M142.5 200v1M142.5 205v1M142.5 213v1M142.5 218v1M142.5 220v1M142.5 231v2M143.5 185v1M143.5 192v1M143.5 206v1M143.5 210v1M143.5 212v1M143.5 216v1M143.5 225v1M143.5 229v2M144.5 176v1M144.5 179v1M144.5 203v2M144.5 206v1M144.5 214v2M144.5 229v1M144.5 233v1M145.5 175v1M145.5 192v3M145.5 205v1M145.5 211v1M145.5 220v1M145.5 223v2M146.5 185v1M146.5 197v1M146.5 218v1M146.5 232v1M147.5 193v1M147.5 203v1M147.5 210v1M147.5 215v2M147.5 223v1M147.5 227v2M148.5 220v1M148.5 225v1M148.5 228v1M148.5 230v1"/>
<path stroke="#27998d" d="M137.5 173v1M137.5 181v1M137.5 184v1M137.5 188v1M137.5 195v2M137.5 200v1M137.5 204v1M137.5 207v1M137.5 210v2M137.5 218v1M137.5 222v1M137.5 226v2M137.5 229v1M137.5 232v2M138.5 180v1M138.5 182v1M138.5 191v2M138.5 194v1M138.5 196v1M138.5 198v2M138.5 202v3M138.5 210v2M138.5 213v1M138.5 215v3M138.5 229v3M139.5 168v1M139.5 176v1M139.5 181v1M139.5 183v1M139.5 188v4M139.5 193v1M139.5 199v1M139.5 202v3M139.5 208v1M139.5 211v1M139.5 213v1M139.5 217v1M139.5 221v2M139.5 226v1M139.5 229v2M139.5 233v1M140.5 165v1M140.5 167v1M140.5 173v1M140.5 177v1M140.5 180v1M140.5 188v1M140.5 191v2M140.5 197v2M140.5 200v2M140.5 204v2M140.5 209v1M140.5 211v3M140.5 217v1M140.5 219v1M140.5 221v1M140.5 226v2M140.5 230v1M141.5 174v1M141.5 177v1M141.5 180v1M141.5 183v3M141.5 188v3M141.5 196v3M141.5 201v1M141.5 203v1M141.5 207v2M141.5 210v1M141.5 212v1M141.5 214v1M141.5 216v2M141.5 220v2M141.5 225v1M141.5 227v2M141.5 230v1M141.5 232v2M142.5 175v1M142.5 183v1M142.5 186v2M142.5 190v2M142.5 193v2M142.5 196v2M142.5 199v1M142.5 203v2M142.5 206v2M142.5 209v2M142.5 215v1M142.5 217v1M142.5 222v1M142.5 226v1M142.5 228v3M142.5 233v1M143.5 175v2M143.5 180v1M143.5 186v4M143.5 191v1M143.5 194v1M143.5 196v2M143.5 199v1M143.5 202v4M143.5 208v2M143.5 213v2M143.5 218v2M143.5 223v2M143.5 226v3M143.5 231v1M143.5 233v1M144.5 173v1M144.5 175v1M144.5 180v1M144.5 182v1M144.5 186v1M144.5 189v2M144.5 194v1M144.5 196v1M144.5 198v2M144.5 201v2M144.5 209v2M144.5 213v1M144.5 216v2M144.5 219v1M144.5 223v1M144.5 226v3M144.5 231v2M145.5 183v5M145.5 200v1M145.5 203v1M145.5 206v3M145.5 210v1M145.5 212v1M145.5 215v1M145.5 217v3M145.5 221v1M145.5 225v3M145.5 231v3M146.5 187v2M146.5 190v3M146.5 195v1M146.5 199v1M146.5 203v5M146.5 209v1M146.5 212v2M146.5 215v1M146.5 219v1M146.5 222v3M146.5 227v1M146.5 229v3M147.5 200v2M147.5 204v1M147.5 206v2M147.5 211v2M147.5 230v1M148.5 219v1M148.5 229v1M212.5 158v1M212.5 164v1M212.5 174v1M212.5 177v1M213.5 181v2M214.5 171v1M214.5 179v1M214.5 183v1M215.5 151v1M215.5 153v1M215.5 167v1M215.5 186v1M216.5 163v1M216.5 165v1M216.5 169v1M216.5 185v1M216.5 188v1M217.5 154v1M217.5 162v1M217.5 167v1M217.5 190v1M218.5 200v1M219.5 150v1M219.5 153v1M219.5 180v1M219.5 184v1M219.5 187v1M220.5 152v1M220.5 175v2M220.5 180v1M220.5 192v2M221.5 155v1M221.5 159v2M221.5 162v1M221.5 166v1M221.5 180v1M221.5 191v1M221.5 196v1M222.5 164v1M222.5 193v1M222.5 196v2M223.5 155v1M223.5 164v1M223.5 171v1M224.5 166v1M224.5 168v1M224.5 170v1M224.5 173v1M224.5 177v2M224.5 194v1M225.5 149v1M225.5 153v1M225.5 158v1M225.5 160v1M225.5 165v1M225.5 168v1M226.5 157v1M226.5 166v1M226.5 168v1"/>
<path stroke="#279f87" d="M146.5 220v1M146.5 225v1M147.5 194v1M147.5 198v1M147.5 202v1M148.5 212v1M148.5 222v1M149.5 200v1M149.5 202v1M149.5 233v1M151.5 182v1M152.5 188v1M152.5 190v1M152.5 203v1M152.5 212v1M152.5 214v1M152.5 219v1M152.5 229v1M153.5 183v1M153.5 199v1M154.5 215v1M155.5 176v1M155.5 192v1M155.5 221v1M156.5 188v1M158.5 185v1M158.5 209v1"/>
<path stroke="#453393" d="M158.5 214v20M159.5 193v41M160.5 181v53M161.5 172v1M161.5 174v60M162.5 166v1M162.5 168v2M162.5 171v63M163.5 162v2M163.5 165v1M163.5 167v1M163.5 169v4M163.5 174v60M164.5 160v4M164.5 165v4M164.5 171v1M164.5 173v61M165.5 162v1M165.5 165v2M165.5 168v2M165.5 171v63M166.5 164v3M166.5 168v66M167.5 164v2M167.5 168v2M167.5 172v1M167.5 174v60M168.5 166v4M168.5 171v63M169.5 166v68M170.5 167v1M170.5 169v2M170.5 172v62M171.5 167v3M171.5 172v62M172.5 168v1M172.5 170v64M173.5 167v67M174.5 167v2M174.5 170v64M175.5 165v3M175.5 169v2M175.5 172v62M176.5 165v1M176.5 167v2M176.5 170v1M176.5 172v62M177.5 163v3M177.5 167v67M178.5 162v72M179.5 162v3M179.5 166v1M179.5 170v64M180.5 160v6M180.5 171v63M181.5 159v3M181.5 164v70M182.5 160v4M182.5 165v1M182.5 167v67M183.5 161v5M183.5 167v67M184.5 172v2M184.5 175v59M185.5 182v52M186.5 191v43M187.5 201v33M188.5 205v29M189.5 211v23M190.5 216v2M190.5 219v15M191.5 220v14M192.5 222v1M192.5 225v9M193.5 224v10M194.5 226v8M195.5 228v6M196.5 229v5M197.5 231v2M198.5 233v1"/>
<path stroke="#453381" d="M202.5 226v1M202.5 229v5M203.5 201v1M203.5 203v3M203.5 207v1M203.5 209v3M203.5 213v21M204.5 115v7M204.5 124v8M204.5 133v1M204.5 135v2M204.5 140v1M204.5 142v22M204.5 165v4M204.5 170v4M204.5 175v4M204.5 180v54M205.5 115v25M205.5 144v1M205.5 146v88M206.5 125v18M206.5 146v1M206.5 150v84M207.5 135v13M207.5 152v1M207.5 154v2M207.5 157v77M208.5 141v10M208.5 152v1M208.5 158v1M208.5 160v74M209.5 146v11M209.5 161v73M210.5 153v5M210.5 159v1M210.5 164v4M210.5 169v65M211.5 165v1M211.5 167v1M211.5 173v1M211.5 176v11M211.5 188v46M212.5 182v2M212.5 185v1M212.5 188v2M212.5 191v43M213.5 199v1M213.5 204v1M213.5 206v28M214.5 205v1M214.5 209v1M214.5 211v23M215.5 213v21M216.5 218v16M217.5 222v3M217.5 226v8M218.5 227v7M219.5 229v1M219.5 231v3M220.5 232v1"/>
<path stroke="#d5e12d" d="M210.5 160v4M210.5 168v1M211.5 160v5M211.5 166v1M211.5 169v4M211.5 174v2M211.5 187v1M212.5 160v2M212.5 165v1M212.5 167v1M212.5 169v2M212.5 172v2M212.5 175v2M212.5 178v4M212.5 184v1M212.5 186v2M212.5 190v1M213.5 174v3M213.5 179v1M213.5 184v2M213.5 188v2M213.5 192v7M213.5 200v4M213.5 205v1M214.5 184v1M214.5 188v1M214.5 190v1M214.5 192v3M214.5 196v1M214.5 198v7M214.5 206v3M214.5 210v1M215.5 203v1M215.5 207v6M216.5 210v4M216.5 215v3M217.5 213v1M217.5 215v7M217.5 225v1M218.5 219v3M218.5 223v4M219.5 224v1M219.5 226v3M219.5 230v1M220.5 226v1M220.5 228v4M220.5 233v1M221.5 231v1"/>
<path stroke="#2d7b93" d="M211.5 158v2M211.5 168v1M212.5 153v2M212.5 156v1M212.5 159v1M212.5 162v1M212.5 166v1M213.5 150v3M213.5 157v3M213.5 161v4M213.5 167v2M213.5 170v1M213.5 172v2M213.5 177v1M213.5 183v1M213.5 186v1M213.5 191v1M214.5 150v2M214.5 156v1M214.5 158v2M214.5 161v3M214.5 166v3M214.5 170v1M214.5 173v1M214.5 176v1M214.5 178v1M214.5 180v2M214.5 185v2M214.5 189v1M214.5 195v1M215.5 152v1M215.5 154v2M215.5 158v1M215.5 160v3M215.5 164v3M215.5 172v2M215.5 175v1M215.5 177v2M215.5 184v1M215.5 188v2M215.5 198v2M215.5 201v1M215.5 205v1M216.5 150v5M216.5 157v1M216.5 160v1M216.5 162v1M216.5 166v2M216.5 177v3M216.5 189v2M216.5 193v2M216.5 196v1M216.5 198v1M216.5 204v1M217.5 151v1M217.5 158v2M217.5 164v1M217.5 168v3M217.5 172v1M217.5 177v1M217.5 179v1M217.5 181v1M217.5 183v5M217.5 194v1M217.5 203v2M217.5 209v2M218.5 153v1M218.5 155v1M218.5 158v1M218.5 165v1M218.5 169v2M218.5 175v3M218.5 181v2M218.5 186v1M218.5 189v3M218.5 194v3M218.5 202v2M218.5 208v1M218.5 211v1M218.5 213v1M219.5 155v4M219.5 160v1M219.5 163v1M219.5 167v3M219.5 172v1M219.5 175v1M219.5 178v1M219.5 186v1M219.5 189v1M219.5 191v4M219.5 196v1M219.5 199v3M219.5 203v1M219.5 213v2M219.5 217v1M219.5 219v3M219.5 225v1M220.5 151v1M220.5 154v1M220.5 158v3M220.5 162v1M220.5 165v1M220.5 168v2M220.5 171v1M220.5 177v1M220.5 181v1M220.5 183v1M220.5 185v2M220.5 190v2M220.5 196v1M220.5 198v1M220.5 200v2M220.5 206v2M220.5 209v1M220.5 211v3M220.5 217v1M220.5 219v1M221.5 152v1M221.5 158v1M221.5 163v2M221.5 167v1M221.5 172v1M221.5 176v3M221.5 181v1M221.5 183v4M221.5 189v2M221.5 192v1M221.5 197v3M221.5 205v1M221.5 210v2M221.5 215v1M221.5 218v1M221.5 228v2M222.5 150v1M222.5 153v2M222.5 157v1M222.5 161v1M222.5 165v1M222.5 167v1M222.5 169v1M222.5 171v1M222.5 176v1M222.5 179v2M222.5 186v1M222.5 189v1M222.5 191v1M222.5 194v2M222.5 199v1M222.5 208v1M222.5 211v1M222.5 213v1M222.5 215v1M222.5 218v2M222.5 226v1M223.5 151v2M223.5 156v2M223.5 160v1M223.5 163v1M223.5 166v1M223.5 169v2M223.5 172v2M223.5 175v1M223.5 177v1M223.5 179v1M223.5 181v6M223.5 188v3M223.5 192v1M223.5 194v2M223.5 197v2M223.5 205v1M223.5 207v2M223.5 211v1M223.5 216v1M224.5 150v1M224.5 156v2M224.5 159v2M224.5 163v2M224.5 174v2M224.5 182v2M224.5 186v3M224.5 191v1M224.5 196v1M224.5 201v1M225.5 150v1M225.5 155v3M225.5 162v2M225.5 167v1M225.5 169v2M225.5 172v1M225.5 176v4M226.5 154v1M226.5 165v1M226.5 176v1M226.5 181v1M226.5 183v1M227.5 155v1M227.5 160v2M227.5 178v1"/>
<path stroke="#278793" d="M212.5 148v1M213.5 144v1M214.5 128v1M214.5 142v2M215.5 117v1M216.5 104v1M216.5 142v1M217.5 149v1M218.5 143v1M221.5 110v1M221.5 120v1M221.5 123v1M221.5 125v1M222.5 106v1M222.5 125v1M222.5 134v1M223.5 136v1"/>
<path stroke="#4b338d" d="M212.5 149v1M213.5 136v1M213.5 139v1M213.5 141v1M213.5 143v1M213.5 146v4M214.5 117v1M214.5 123v5M214.5 129v1M214.5 131v1M214.5 133v3M214.5 137v2M214.5 140v2M214.5 144v2M214.5 148v2M215.5 105v2M215.5 110v2M215.5 113v4M215.5 118v7M215.5 126v7M215.5 134v12M215.5 147v2M216.5 101v2M216.5 105v1M216.5 107v4M216.5 114v7M216.5 122v5M216.5 128v2M216.5 131v3M216.5 135v7M216.5 143v7M217.5 100v9M217.5 110v15M217.5 126v16M217.5 143v6M218.5 101v5M218.5 107v2M218.5 111v15M218.5 127v1M218.5 130v3M218.5 134v1M218.5 136v7M218.5 144v6M219.5 100v14M219.5 115v1M219.5 117v9M219.5 127v2M219.5 130v1M219.5 132v1M219.5 134v7M219.5 142v5M219.5 148v2M220.5 100v4M220.5 105v27M220.5 133v2M220.5 136v12M220.5 149v1M221.5 100v3M221.5 104v6M221.5 111v2M221.5 114v3M221.5 119v1M221.5 121v1M221.5 126v12M221.5 139v2M221.5 142v2M221.5 145v3M221.5 149v1M222.5 100v5M222.5 108v7M222.5 116v1M222.5 118v1M222.5 120v5M222.5 126v4M222.5 131v3M222.5 135v15M223.5 110v1M223.5 112v1M223.5 115v1M223.5 117v1M223.5 120v7M223.5 128v2M223.5 131v2M223.5 134v2M223.5 138v1M223.5 140v3M223.5 144v6M223.5 224v10M224.5 125v2M224.5 128v2M224.5 132v2M224.5 136v12M224.5 214v20M225.5 142v4M225.5 147v2M225.5 204v30M226.5 194v40M227.5 184v50M228.5 175v59M229.5 165v69M230.5 162v72M231.5 158v76M232.5 155v79M233.5 152v82M234.5 148v86M235.5 145v89M236.5 141v93M237.5 140v94M238.5 143v91M239.5 145v89M240.5 148v86M241.5 151v83M242.5 153v81M243.5 155v79M244.5 158v76M245.5 161v73M246.5 164v2M246.5 167v67M247.5 168v66M248.5 173v3M248.5 177v57M249.5 178v56M250.5 184v1M250.5 186v1M250.5 188v46M251.5 194v40M252.5 201v33M253.5 207v2M253.5 210v24M254.5 209v25M255.5 206v28M256.5 203v31M257.5 194v40M258.5 174v60M259.5 169v65M260.5 167v67M261.5 167v1M261.5 169v65M262.5 169v65M263.5 172v62M264.5 174v2M264.5 177v57M265.5 184v3M265.5 188v46M266.5 136v98M267.5 118v5M267.5 124v110M268.5 108v10M268.5 119v115M269.5 112v2M269.5 115v95M269.5 224v10M270.5 118v85M270.5 223v11M271.5 124v18M271.5 143v53M271.5 218v16M272.5 148v4M272.5 153v15M272.5 169v1M272.5 172v5M272.5 178v3M272.5 215v19M273.5 212v22M274.5 210v24M275.5 207v27M276.5 208v26M277.5 210v24M278.5 213v21M279.5 220v14M280.5 225v1M280.5 227v7M281.5 228v6M282.5 222v12M283.5 217v17M284.5 214v20M285.5 213v21M286.5 210v24M287.5 207v27M288.5 207v27M289.5 207v27M290.5 209v25M291.5 211v23M292.5 214v20"/>
<path stroke="#45338d" d="M212.5 152v1M212.5 155v1M212.5 168v1M212.5 171v1M213.5 154v1M213.5 160v1M213.5 166v1M213.5 171v1M213.5 178v1M213.5 180v1M213.5 187v1M213.5 190v1M214.5 160v1M214.5 164v1M214.5 169v1M214.5 174v1M214.5 177v1M214.5 187v1M214.5 191v1M214.5 197v1M215.5 150v1M215.5 156v1M215.5 159v1M215.5 163v1M215.5 169v1M215.5 174v1M215.5 176v1M215.5 179v2M215.5 182v2M215.5 187v1M215.5 190v2M215.5 193v2M215.5 196v1M215.5 202v1M215.5 204v1M215.5 206v1M216.5 155v2M216.5 159v1M216.5 161v1M216.5 164v1M216.5 168v1M216.5 171v2M216.5 174v1M216.5 176v1M216.5 184v1M216.5 186v1M216.5 191v2M216.5 197v1M216.5 199v2M216.5 203v1M216.5 205v1M217.5 150v1M217.5 156v2M217.5 163v1M217.5 165v2M217.5 171v1M217.5 182v1M217.5 189v1M217.5 191v2M217.5 196v2M217.5 201v1M217.5 205v3M217.5 211v1M217.5 214v1M218.5 151v1M218.5 160v1M218.5 163v2M218.5 168v1M218.5 171v4M218.5 178v3M218.5 183v2M218.5 188v1M218.5 197v1M218.5 199v1M218.5 201v1M218.5 205v2M218.5 212v1M218.5 217v1M218.5 222v1M219.5 151v1M219.5 154v1M219.5 161v1M219.5 165v1M219.5 170v2M219.5 177v1M219.5 179v1M219.5 183v1M219.5 188v1M219.5 190v1M219.5 197v2M219.5 204v1M219.5 211v2M219.5 215v2M219.5 218v1M220.5 156v2M220.5 164v1M220.5 172v1M220.5 178v1M220.5 184v1M220.5 187v1M220.5 194v1M220.5 197v1M220.5 202v1M220.5 204v1M220.5 210v1M220.5 215v1M220.5 220v1M220.5 222v2M220.5 225v1M220.5 227v1M221.5 151v1M221.5 171v1M221.5 174v2M221.5 179v1M221.5 182v1M221.5 187v1M221.5 194v1M221.5 200v2M221.5 204v1M221.5 216v2M221.5 219v2M221.5 222v2M221.5 226v1M222.5 152v1M222.5 155v1M222.5 163v1M222.5 168v1M222.5 170v1M222.5 172v2M222.5 177v2M222.5 181v1M222.5 183v2M222.5 187v2M222.5 192v1M222.5 198v1M222.5 200v1M222.5 204v2M222.5 216v1M223.5 150v1M223.5 159v1M223.5 165v1M223.5 167v1M223.5 187v1M223.5 191v1M223.5 200v3M223.5 204v1M223.5 206v1M224.5 151v2M224.5 158v1M224.5 161v1M224.5 169v1M224.5 171v2M224.5 176v1M224.5 179v1M224.5 181v1M224.5 184v1M224.5 190v1M224.5 193v1M224.5 198v1M224.5 202v1M225.5 151v1M225.5 154v1M225.5 161v1M225.5 164v1M225.5 166v1M225.5 171v1M225.5 173v2M225.5 181v1M225.5 184v1M225.5 186v1M225.5 190v1M226.5 158v1M226.5 161v2M227.5 152v1M227.5 157v1"/>
<path stroke="#396399" d="M212.5 163v1M213.5 153v1M213.5 155v2M213.5 165v1M213.5 169v1M214.5 152v4M214.5 157v1M214.5 165v1M214.5 172v1M214.5 175v1M214.5 182v1M215.5 157v1M215.5 168v1M215.5 170v2M215.5 181v1M215.5 185v1M215.5 192v1M215.5 195v1M215.5 197v1M215.5 200v1M216.5 158v1M216.5 170v1M216.5 173v1M216.5 175v1M216.5 180v4M216.5 187v1M216.5 195v1M216.5 201v2M216.5 206v4M216.5 214v1M217.5 152v2M217.5 155v1M217.5 160v2M217.5 173v4M217.5 178v1M217.5 180v1M217.5 188v1M217.5 193v1M217.5 195v1M217.5 198v3M217.5 202v1M217.5 208v1M217.5 212v1M218.5 150v1M218.5 152v1M218.5 154v1M218.5 156v2M218.5 159v1M218.5 161v2M218.5 166v2M218.5 185v1M218.5 187v1M218.5 192v2M218.5 198v1M218.5 204v1M218.5 207v1M218.5 209v2M218.5 214v3M218.5 218v1M219.5 152v1M219.5 159v1M219.5 162v1M219.5 164v1M219.5 166v1M219.5 173v2M219.5 176v1M219.5 181v2M219.5 185v1M219.5 195v1M219.5 202v1M219.5 205v6M219.5 222v2M220.5 150v1M220.5 153v1M220.5 155v1M220.5 161v1M220.5 163v1M220.5 166v2M220.5 170v1M220.5 173v2M220.5 179v1M220.5 182v1M220.5 188v2M220.5 195v1M220.5 199v1M220.5 203v1M220.5 205v1M220.5 208v1M220.5 214v1M220.5 216v1M220.5 218v1M220.5 221v1M220.5 224v1M221.5 150v1M221.5 153v2M221.5 156v2M221.5 161v1M221.5 165v1M221.5 168v3M221.5 173v1M221.5 188v1M221.5 193v1M221.5 195v1M221.5 202v2M221.5 206v4M221.5 212v3M221.5 221v1M221.5 224v1M221.5 232v2M222.5 151v1M222.5 156v1M222.5 158v3M222.5 162v1M222.5 166v1M222.5 174v2M222.5 182v1M222.5 185v1M222.5 190v1M222.5 201v3M222.5 206v2M222.5 209v2M222.5 212v1M222.5 214v1M222.5 223v2M223.5 153v2M223.5 158v1M223.5 161v2M223.5 168v1M223.5 174v1M223.5 176v1M223.5 178v1M223.5 180v1M223.5 193v1M223.5 196v1M223.5 199v1M223.5 203v1M223.5 212v1M223.5 215v1M224.5 153v3M224.5 162v1M224.5 165v1M224.5 167v1M224.5 180v1M224.5 185v1M224.5 189v1M224.5 195v1M224.5 199v1M224.5 206v1M225.5 152v1M225.5 159v1M225.5 175v1M225.5 191v1M226.5 151v2M226.5 155v2M226.5 159v1M226.5 163v1M227.5 153v1M227.5 156v1M227.5 159v1"/>
<path stroke="#513999" d="M214.5 5v3M214.5 9v4M214.5 16v2M214.5 19v2M214.5 23v2M214.5 29v3M214.5 33v1M214.5 45v1M214.5 47v1M215.5 5v17M215.5 23v17M215.5 41v1M215.5 43v3M215.5 47v1M215.5 51v2M215.5 54v4M215.5 59v2M215.5 62v6M215.5 72v2M215.5 75v1M215.5 77v1M215.5 87v1M215.5 91v1M215.5 93v1M215.5 98v1M216.5 6v4M216.5 11v1M216.5 13v28M216.5 42v35M216.5 78v2M216.5 81v7M216.5 89v5M216.5 95v3M216.5 100v1M217.5 6v5M217.5 13v4M217.5 18v2M217.5 22v5M217.5 28v3M217.5 32v7M217.5 41v10M217.5 52v48M218.5 46v2M218.5 56v1M218.5 58v1M218.5 64v2M218.5 68v4M218.5 74v1M218.5 78v4M218.5 87v3M218.5 91v2M218.5 94v7M219.5 80v1M219.5 83v1M219.5 87v1M219.5 90v1M219.5 94v1M219.5 96v4M220.5 70v1M220.5 73v3M220.5 77v1M220.5 79v1M220.5 81v3M220.5 86v2M220.5 89v11M221.5 10v1M221.5 13v2M221.5 21v1M221.5 27v1M221.5 32v1M221.5 35v1M221.5 37v1M221.5 40v1M221.5 43v2M221.5 47v2M221.5 50v3M221.5 55v3M221.5 59v25M221.5 85v6M221.5 92v8M222.5 5v1M222.5 7v3M222.5 11v10M222.5 22v9M222.5 32v39M222.5 72v17M222.5 90v10M223.5 5v16M223.5 22v20M223.5 45v12M223.5 58v6M223.5 65v17M223.5 83v3M223.5 91v2M224.5 8v1M224.5 10v4M224.5 15v7M224.5 24v30M224.5 55v10M224.5 67v3M224.5 71v1M225.5 5v13M225.5 19v2M225.5 22v1M225.5 24v7M225.5 32v4M225.5 37v1M225.5 40v2M225.5 43v2M225.5 46v1M225.5 51v2M225.5 54v2M225.5 58v1M225.5 62v1M226.5 6v1M226.5 8v2M226.5 12v1M226.5 14v3M226.5 34v1M226.5 43v1"/>
<path stroke="#395d99" d="M214.5 121v1M214.5 130v1M214.5 132v1M214.5 146v1M215.5 125v1M215.5 149v1M216.5 103v1M216.5 106v1M216.5 111v3M216.5 121v1M216.5 127v1M216.5 134v1M217.5 109v1M217.5 125v1M218.5 106v1M218.5 110v1M218.5 128v1M218.5 133v1M219.5 114v1M219.5 126v1M219.5 129v1M219.5 133v1M220.5 132v1M220.5 135v1M220.5 148v1M221.5 122v1M221.5 144v1M221.5 148v1M222.5 105v1M222.5 107v1M222.5 115v1M223.5 104v1M223.5 119v1M223.5 133v1M223.5 137v1M223.5 143v1M224.5 131v1M224.5 148v2M225.5 141v1M225.5 146v1"/></g></g>
<line x1="45.8" x2="293.05" y1="233.6" y2="233.6" stroke="#000" stroke-opacity="0.3" stroke-width="0.8"/>
<rect x="352.2" y="4.4" width="247.25" height="229.7" fill="#000"/>
<g clip-path="url(#cb)"><g stroke-width="1" fill="none" filter="url(#soft)"><path stroke="#7bcf51" d="M352.5 109v1M352.5 112v2M352.5 126v1M352.5 130v2M352.5 138v1M352.5 142v2M352.5 145v2M352.5 149v1M352.5 152v1M352.5 155v2M352.5 159v3M352.5 163v1M352.5 165v1M352.5 167v1M352.5 169v4M352.5 174v3M352.5 178v1M352.5 182v1M352.5 185v2M352.5 188v1M352.5 190v1M352.5 192v6M352.5 201v2M352.5 204v1M352.5 206v3M352.5 210v2M352.5 214v10M352.5 225v1M352.5 227v4M352.5 232v1M353.5 117v1M353.5 128v2M353.5 132v1M353.5 136v1M353.5 138v1M353.5 140v1M353.5 143v1M353.5 146v3M353.5 150v2M353.5 153v1M353.5 155v4M353.5 160v8M353.5 169v3M353.5 173v3M353.5 177v1M353.5 179v3M353.5 183v3M353.5 187v1M353.5 189v1M353.5 192v3M353.5 197v9M353.5 207v2M353.5 210v2M353.5 216v1M353.5 220v1M353.5 222v1M353.5 225v1M353.5 227v4M353.5 232v2M354.5 105v1M354.5 126v2M354.5 130v1M354.5 132v1M354.5 134v2M354.5 137v1M354.5 139v1M354.5 141v2M354.5 144v1M354.5 146v2M354.5 150v3M354.5 154v2M354.5 158v1M354.5 164v1M354.5 166v2M354.5 169v2M354.5 173v3M354.5 177v3M354.5 181v3M354.5 186v5M354.5 192v1M354.5 195v10M354.5 206v2M354.5 209v2M354.5 212v3M354.5 216v4M354.5 221v2M354.5 226v2M354.5 229v1M354.5 231v2M355.5 106v1M355.5 115v1M355.5 119v1M355.5 121v2M355.5 125v1M355.5 131v2M355.5 137v2M355.5 141v2M355.5 150v1M355.5 154v3M355.5 159v4M355.5 166v5M355.5 173v2M355.5 176v1M355.5 178v2M355.5 181v3M355.5 185v1M355.5 187v1M355.5 191v1M355.5 193v3M355.5 197v5M355.5 204v1M355.5 207v1M355.5 210v2M355.5 213v1M355.5 216v3M355.5 220v1M355.5 225v1M355.5 228v3M355.5 232v2M356.5 101v1M356.5 113v1M356.5 125v1M356.5 136v1M356.5 144v1M357.5 133v1M357.5 138v2M357.5 142v1M357.5 151v1M358.5 103v1M358.5 115v1M358.5 126v1M358.5 136v2M358.5 145v1M358.5 153v2M358.5 156v1M359.5 137v1M359.5 148v2M360.5 119v1M360.5 127v2M360.5 131v1M360.5 135v1M360.5 146v1M360.5 148v1M361.5 103v1M361.5 118v1M361.5 121v1M361.5 149v1M362.5 121v1M362.5 129v1M362.5 134v1M362.5 138v1M362.5 150v1M362.5 154v1M362.5 157v1M363.5 136v1M363.5 159v1M364.5 108v1M364.5 128v1M365.5 103v1M365.5 125v1M365.5 132v1M366.5 105v1M367.5 108v1M367.5 121v1M367.5 131v1M367.5 142v1M368.5 107v1M368.5 123v1M368.5 141v1M369.5 126v1M370.5 120v1M370.5 123v1M372.5 158v1M374.5 112v1M374.5 126v1M374.5 129v1M376.5 128v1M376.5 149v1M376.5 163v1M377.5 138v1M378.5 120v2M379.5 119v1M382.5 128v1M383.5 134v1M383.5 138v1M385.5 160v1M386.5 132v1M388.5 121v1M388.5 128v1M389.5 118v1M389.5 139v1M390.5 128v1M390.5 139v1M393.5 118v1M393.5 124v1M394.5 138v1M395.5 127v1M395.5 130v1M396.5 131v1M397.5 126v1M399.5 120v1M399.5 126v1M399.5 135v1M404.5 183v1M404.5 185v1M404.5 196v1M404.5 214v1M404.5 217v2M405.5 179v1M405.5 190v1M405.5 223v1M405.5 225v1M405.5 228v1M406.5 203v1M406.5 210v1M406.5 218v4M407.5 180v1M407.5 194v1M407.5 205v1M407.5 226v1M407.5 233v1M415.5 184v1M415.5 190v1M416.5 187v1M416.5 202v1M416.5 215v1M416.5 220v1M416.5 224v1M417.5 189v2M417.5 203v1M417.5 207v1M417.5 209v1M417.5 228v1"/>
<path stroke="#3f5199" d="M352.5 121v1M352.5 125v1M353.5 126v1M353.5 130v1M353.5 133v1M353.5 142v1M353.5 145v1M354.5 111v1M354.5 121v1M354.5 149v1M355.5 127v1M355.5 136v1M355.5 140v1M357.5 132v1M357.5 136v1M357.5 148v1M357.5 153v1M358.5 132v1M358.5 140v1M358.5 147v1M359.5 122v1M359.5 124v1M359.5 127v1M359.5 131v1M359.5 138v1M359.5 144v1M360.5 149v1M360.5 151v1M361.5 138v1M361.5 150v1M362.5 125v1M362.5 131v1M362.5 133v1M362.5 141v2M362.5 144v1M362.5 162v1M363.5 145v1M363.5 155v1M363.5 162v1M363.5 164v1M364.5 134v1M364.5 155v1M364.5 165v1M364.5 167v1M365.5 133v1M365.5 135v2M365.5 142v1M365.5 155v1M366.5 128v1M366.5 144v1M366.5 152v1M366.5 169v1M367.5 126v1M367.5 137v1M367.5 140v1M367.5 148v1M367.5 167v1M368.5 140v1M368.5 157v1M368.5 160v1M368.5 168v1M368.5 170v1M369.5 137v1M369.5 139v1M369.5 143v1M370.5 124v1M370.5 134v1M370.5 155v1M371.5 131v1M371.5 146v1M371.5 155v1M372.5 155v1M373.5 128v1M373.5 136v1M373.5 139v1M373.5 141v1M373.5 143v1M373.5 146v1M373.5 153v3M373.5 161v1M374.5 132v1M374.5 135v1M374.5 137v1M374.5 144v1M374.5 148v1M374.5 152v1M374.5 170v1M375.5 165v2M375.5 169v1M376.5 133v1M376.5 145v1M376.5 148v1M376.5 155v1M376.5 159v1M376.5 170v1M377.5 133v1M377.5 140v2M377.5 147v1M377.5 154v1M377.5 157v2M378.5 132v2M378.5 139v1M378.5 144v1M378.5 163v1M378.5 168v1M379.5 133v1M379.5 144v1M379.5 146v1M379.5 153v1M379.5 158v1M379.5 161v1M380.5 143v1M380.5 145v1M380.5 148v2M380.5 160v1M380.5 163v1M380.5 165v2M381.5 143v1M381.5 160v1M381.5 168v1M381.5 174v1M382.5 153v1M382.5 156v1M382.5 161v1M382.5 172v1M383.5 148v1M384.5 161v1M384.5 168v1M384.5 170v1M384.5 174v1M385.5 138v1M385.5 153v1M385.5 155v1M385.5 158v1M385.5 162v3M386.5 143v1M386.5 146v1M386.5 152v1M386.5 156v1M386.5 158v2M386.5 165v1M386.5 168v1M386.5 175v1M387.5 140v1M387.5 174v1M388.5 97v2M388.5 100v1M388.5 105v1M388.5 108v1M388.5 112v1M388.5 116v1M388.5 119v2M388.5 122v1M388.5 125v3M388.5 129v2M388.5 135v1M388.5 138v1M388.5 142v1M388.5 146v2M388.5 149v1M388.5 153v2M388.5 157v1M388.5 160v1M388.5 163v1M388.5 165v2M388.5 168v2M389.5 165v1M389.5 169v1M389.5 174v1M390.5 154v1M390.5 156v1M390.5 160v2M390.5 166v1M391.5 147v1M391.5 163v1M392.5 168v1M392.5 170v1M393.5 165v1M393.5 169v1M394.5 157v1M394.5 166v1M394.5 172v1M395.5 154v1M395.5 161v1M395.5 163v1M396.5 160v1M396.5 174v1M397.5 154v1M397.5 166v1M397.5 168v1M397.5 173v1M398.5 152v1M398.5 160v1M398.5 163v2M398.5 171v1M399.5 148v1M399.5 152v2M399.5 159v2M399.5 162v1M399.5 167v1M399.5 173v1M399.5 175v1M400.5 158v1M400.5 167v1M401.5 131v1M401.5 137v2M401.5 168v1M401.5 173v1M401.5 177v1M410.5 132v1M410.5 138v1M410.5 140v2M410.5 148v1M410.5 176v1M411.5 144v1M411.5 170v1M412.5 152v1M412.5 167v1M412.5 173v1M412.5 175v1M413.5 171v1M413.5 176v1M414.5 149v1M414.5 155v1M414.5 157v1M414.5 159v1M414.5 167v2M415.5 154v1M415.5 162v1M417.5 151v1M417.5 171v1M421.5 166v1M421.5 174v1M421.5 177v1M421.5 180v1M421.5 190v4M421.5 199v1M421.5 211v1M421.5 223v1M421.5 225v2M422.5 165v1M422.5 170v1M422.5 176v1M422.5 181v1M422.5 183v3M422.5 190v2M422.5 196v1M422.5 203v1M422.5 205v2M422.5 212v2M422.5 216v2M422.5 220v1M422.5 222v1M422.5 224v1M532.5 150v1M532.5 153v1M532.5 160v1M532.5 164v1M532.5 169v1M533.5 150v2M533.5 154v1M533.5 158v1M533.5 162v1M533.5 165v1M533.5 167v6M533.5 179v1"/>
<path stroke="#c9e127" d="M352.5 157v1M352.5 166v1M352.5 168v1M352.5 173v1M352.5 181v1M352.5 200v1M352.5 209v1M352.5 212v1M352.5 233v1M353.5 124v1M353.5 144v1M353.5 154v1M353.5 172v1M353.5 176v1M353.5 191v1M353.5 217v1M353.5 221v1M354.5 156v1M354.5 159v1M354.5 163v1M354.5 171v1M354.5 176v1M354.5 180v1M354.5 184v1M354.5 191v1M354.5 194v1M354.5 220v1M354.5 223v1M354.5 228v1M354.5 233v1M355.5 135v1M355.5 146v1M355.5 153v1M355.5 158v1M355.5 172v1M355.5 177v1M355.5 186v1M355.5 196v1M355.5 202v2M355.5 205v1M355.5 208v2M355.5 214v1M355.5 219v1M355.5 221v1M355.5 223v1M355.5 226v1M355.5 231v1M358.5 127v1M358.5 148v1M359.5 120v1M359.5 135v1M359.5 145v1M360.5 159v1M361.5 124v1M361.5 147v1M362.5 126v2M362.5 139v1M362.5 143v1M362.5 165v1"/>
<path stroke="#21938d" d="M352.5 158v1M352.5 162v1M352.5 164v1M352.5 180v1M352.5 183v2M352.5 187v1M352.5 198v2M352.5 205v1M352.5 224v1M352.5 226v1M352.5 231v1M353.5 159v1M353.5 168v1M353.5 186v1M353.5 195v2M353.5 209v1M353.5 212v3M353.5 218v2M353.5 223v1M353.5 226v1M353.5 231v1M354.5 160v1M354.5 162v1M354.5 165v1M354.5 172v1M354.5 193v1M354.5 205v1M354.5 208v1M354.5 211v1M354.5 225v1M354.5 230v1M355.5 157v1M355.5 171v1M355.5 184v1M355.5 188v1M355.5 190v1M355.5 206v1M355.5 212v1M355.5 222v1M355.5 224v1M355.5 227v1M402.5 121v1M402.5 128v1M402.5 131v1M402.5 135v1M402.5 138v1M402.5 145v1M402.5 150v2M402.5 169v1M402.5 177v1M403.5 158v1M403.5 171v1M404.5 121v3M404.5 127v1M404.5 131v1M404.5 134v1M404.5 136v1M404.5 140v1M404.5 144v3M404.5 151v1M404.5 155v2M404.5 158v3M404.5 163v3M404.5 167v2M404.5 170v4M404.5 175v8M404.5 186v7M404.5 194v2M404.5 197v1M404.5 199v12M404.5 212v2M404.5 215v2M404.5 220v14M405.5 127v1M405.5 131v1M405.5 133v2M405.5 141v1M405.5 149v2M405.5 155v1M405.5 159v1M405.5 162v3M405.5 167v6M405.5 174v5M405.5 180v1M405.5 182v1M405.5 184v6M405.5 191v11M405.5 203v20M405.5 224v1M405.5 226v2M405.5 229v5M406.5 140v1M406.5 143v2M406.5 151v4M406.5 156v1M406.5 159v1M406.5 162v5M406.5 168v1M406.5 170v1M406.5 173v19M406.5 193v1M406.5 195v2M406.5 198v5M406.5 204v2M406.5 207v3M406.5 211v5M406.5 217v1M406.5 222v4M406.5 227v7M407.5 140v1M407.5 143v1M407.5 149v1M407.5 152v1M407.5 158v2M407.5 161v3M407.5 165v1M407.5 167v1M407.5 169v11M407.5 181v13M407.5 195v2M407.5 198v7M407.5 206v17M407.5 224v2M407.5 227v6M408.5 125v1M408.5 127v2M408.5 130v1M408.5 133v1M408.5 138v2M408.5 153v1M408.5 155v1M408.5 163v1M409.5 138v2M409.5 146v2M409.5 156v1M409.5 166v1"/>
<path stroke="#45b775" d="M352.5 177v1M352.5 179v1M352.5 189v1M352.5 191v1M352.5 203v1M352.5 213v1M353.5 178v1M353.5 182v1M353.5 188v1M353.5 190v1M353.5 206v1M353.5 215v1M353.5 224v1M354.5 157v1M354.5 161v1M354.5 168v1M354.5 185v1M354.5 215v1M354.5 224v1M355.5 163v3M355.5 175v1M355.5 180v1M355.5 189v1M355.5 192v1M355.5 215v1"/>
<path stroke="#7ba533" d="M356.5 38v1M356.5 40v10M356.5 51v4M356.5 56v1M356.5 58v10M356.5 69v6M356.5 76v7M356.5 84v1"/>
<path stroke="#81cf45" d="M356.5 85v10M356.5 98v3M356.5 102v9M356.5 112v1M356.5 114v11M356.5 126v4M356.5 131v3M356.5 137v3M356.5 141v3M356.5 146v4M356.5 151v1M356.5 153v2"/>
<path stroke="#276f99" d="M356.5 130v1M356.5 140v1M356.5 150v1M356.5 152v1M356.5 155v1M356.5 157v77M357.5 135v1M357.5 144v1M357.5 146v2M357.5 149v1M357.5 155v79"/>
<path stroke="#395d99" d="M358.5 130v1M358.5 135v1M358.5 139v1M358.5 142v1M358.5 146v1M358.5 149v4M358.5 155v1M358.5 157v77M359.5 125v1M359.5 136v1M359.5 141v2M359.5 146v2M359.5 151v5M359.5 157v77M360.5 117v1M360.5 138v2M360.5 145v1M360.5 147v1M360.5 150v1M360.5 152v7M360.5 160v74M361.5 132v2M361.5 135v1M361.5 137v1M361.5 141v2M361.5 144v1M361.5 153v2M361.5 156v3M361.5 160v1M361.5 162v72"/>
<path stroke="#453f8d" d="M362.5 135v2M362.5 147v1M362.5 151v1M362.5 155v2M362.5 158v4M362.5 163v2M362.5 166v68M363.5 125v1M363.5 129v1M363.5 133v1M363.5 138v2M363.5 142v1M363.5 146v1M363.5 148v1M363.5 151v4M363.5 156v2M363.5 161v1M363.5 163v1M363.5 165v3M363.5 169v65M364.5 135v1M364.5 137v2M364.5 141v1M364.5 148v1M364.5 151v1M364.5 153v2M364.5 158v1M364.5 162v1M364.5 166v1M364.5 168v2M364.5 171v63M365.5 122v1M365.5 139v1M365.5 144v2M365.5 150v1M365.5 156v2M365.5 161v1M365.5 163v1M365.5 167v1M365.5 171v63"/>
<path stroke="#51156f" d="M363.5 141v1M363.5 150v1M363.5 160v1M363.5 168v1M364.5 140v1M364.5 145v2M364.5 152v1M364.5 159v1M364.5 161v1M364.5 163v1M364.5 170v1M365.5 137v1M365.5 153v1M365.5 162v1M366.5 119v1M366.5 127v1M366.5 134v1M366.5 143v1M366.5 147v1M366.5 157v1M366.5 163v1M367.5 132v1M367.5 134v1M367.5 138v1M367.5 141v1M367.5 145v1M367.5 154v1M367.5 156v1M367.5 163v2M367.5 166v1M367.5 169v1M368.5 121v1M368.5 128v1M368.5 146v1M368.5 161v1M369.5 134v1M369.5 136v1M369.5 147v1M369.5 155v1M369.5 158v1M369.5 165v1M369.5 169v1M370.5 138v2M370.5 148v1M370.5 171v1M371.5 148v1M371.5 166v1M371.5 169v2M372.5 160v1M372.5 169v1M373.5 148v1M374.5 145v2M374.5 149v2M375.5 138v1M375.5 156v1M375.5 163v1M376.5 135v1M376.5 137v1M376.5 150v2M376.5 154v1M376.5 157v1M377.5 137v1M377.5 139v1M377.5 143v1M377.5 148v1M378.5 138v1M378.5 146v4M378.5 167v1M379.5 135v1M379.5 154v1M379.5 159v1M380.5 134v2M380.5 155v1M380.5 157v1M380.5 159v1M380.5 167v1M380.5 170v3M381.5 137v1M381.5 144v1M381.5 155v1M381.5 162v2M382.5 141v2M382.5 146v1M382.5 155v1M382.5 158v1M382.5 168v1M383.5 154v1M383.5 157v1M383.5 165v1M384.5 143v1M384.5 164v1M384.5 167v1M385.5 154v1M385.5 170v1M385.5 175v2M386.5 138v1M386.5 150v2M386.5 169v1M387.5 143v1M387.5 148v1M387.5 152v1M387.5 163v1M387.5 172v1M388.5 150v1M388.5 156v1M388.5 158v2M388.5 173v1M389.5 142v1M389.5 153v2M389.5 157v1M389.5 166v1M389.5 176v1M390.5 146v1M390.5 159v1M390.5 164v1M390.5 170v2M391.5 149v1M391.5 152v2M391.5 173v1M392.5 144v2M392.5 165v1M392.5 172v1M393.5 149v1M393.5 151v1M393.5 153v1M393.5 164v1M393.5 170v1M393.5 174v2M394.5 149v1M394.5 155v1M394.5 162v1M394.5 170v1M394.5 173v4M395.5 143v1M395.5 149v1M395.5 151v1M395.5 160v1M395.5 164v1M395.5 173v1M396.5 147v1M396.5 151v1M396.5 154v1M396.5 159v1M396.5 161v1M396.5 164v1M396.5 167v2M396.5 170v1M397.5 142v1M397.5 157v1M397.5 159v1M397.5 161v4M397.5 170v1M397.5 172v1M398.5 147v1M398.5 155v1M398.5 166v1M398.5 169v2M399.5 138v2M399.5 143v1M399.5 145v3M399.5 156v1M399.5 158v1M399.5 174v1M400.5 145v1M400.5 154v2M400.5 157v1M400.5 159v2M401.5 126v1M401.5 130v1M401.5 142v1M401.5 147v1M401.5 155v3M401.5 160v4M401.5 165v1M402.5 127v1M402.5 132v1M402.5 139v1M402.5 152v1M402.5 166v1M402.5 175v1M403.5 126v1M403.5 168v1M404.5 137v1M404.5 142v2M404.5 147v1M404.5 153v1M404.5 162v1M405.5 129v1M405.5 136v1M405.5 140v1M405.5 143v1M405.5 148v1M405.5 158v1M405.5 165v2M406.5 130v1M406.5 169v1M406.5 172v1M407.5 139v1M407.5 154v1M407.5 157v1M408.5 167v2M408.5 175v1M409.5 126v1M409.5 136v1M409.5 150v1M409.5 152v1M409.5 173v1M409.5 177v1M410.5 128v1M410.5 133v1M410.5 143v1M410.5 147v1M410.5 153v1M410.5 155v1M410.5 160v2M410.5 167v1M410.5 177v1M411.5 142v1M411.5 155v1M411.5 158v1M411.5 175v2M412.5 144v1M412.5 158v2M412.5 165v1M412.5 170v1M413.5 152v1M413.5 154v1M413.5 160v1M413.5 164v2M413.5 170v1M414.5 154v1M414.5 160v1M414.5 172v2M415.5 153v1M415.5 159v1M415.5 165v1M415.5 167v1M415.5 171v1M415.5 173v1M415.5 175v2M415.5 178v3M415.5 182v2M415.5 185v1M415.5 187v3M415.5 191v4M415.5 196v1M415.5 198v8M415.5 207v2M415.5 210v11M415.5 222v4M415.5 227v7M416.5 156v1M416.5 159v1M416.5 161v1M416.5 166v3M416.5 170v3M416.5 176v1M416.5 178v3M416.5 182v1M416.5 184v3M416.5 188v5M416.5 194v6M416.5 201v1M416.5 203v11M416.5 216v1M416.5 218v2M416.5 221v3M416.5 226v8M417.5 155v1M417.5 159v1M417.5 162v1M417.5 164v3M417.5 169v1M417.5 172v4M417.5 177v7M417.5 185v4M417.5 191v4M417.5 196v7M417.5 205v2M417.5 208v1M417.5 210v3M417.5 214v12M417.5 227v1M417.5 229v5M442.5 131v3M442.5 136v1M442.5 143v1M442.5 147v1M442.5 158v1M442.5 160v1M442.5 165v2M442.5 173v1M442.5 176v1M442.5 179v1M442.5 182v1M442.5 185v1M442.5 196v1M442.5 200v1M442.5 210v1M442.5 214v1M442.5 224v2M442.5 227v1M442.5 230v2M442.5 233v1M443.5 131v1M443.5 134v1M443.5 137v1M443.5 141v1M443.5 144v2M443.5 148v1M443.5 151v1M443.5 154v1M443.5 157v1M443.5 160v1M443.5 167v1M443.5 169v2M443.5 173v1M443.5 175v4M443.5 181v2M443.5 184v1M443.5 188v1M443.5 191v1M443.5 195v2M443.5 200v3M443.5 204v8M443.5 213v3M443.5 218v1M443.5 222v9M443.5 232v2M444.5 141v1M444.5 152v1M444.5 156v1M444.5 171v1M444.5 180v4M444.5 186v1M444.5 189v1M444.5 191v2M444.5 194v1M444.5 196v1M444.5 198v2M444.5 202v3M444.5 210v4M444.5 215v3M444.5 229v3M445.5 168v1M445.5 176v1M445.5 181v1M445.5 183v1M445.5 188v4M445.5 193v1M445.5 199v1M445.5 202v3M445.5 208v1M445.5 211v1M445.5 213v1M445.5 217v1M445.5 221v2M445.5 226v1M445.5 229v2M445.5 233v1M446.5 165v1M446.5 167v1M446.5 173v1M446.5 177v1M446.5 180v1M446.5 188v1M446.5 191v2M446.5 197v2M446.5 200v2M446.5 204v2M446.5 209v1M446.5 211v3M446.5 217v1M446.5 219v1M446.5 221v1M446.5 226v2M446.5 230v1M447.5 174v1M447.5 177v1M447.5 180v1M447.5 183v3M447.5 188v3M447.5 196v3M447.5 201v1M447.5 203v1M447.5 207v2M447.5 210v1M447.5 212v1M447.5 214v1M447.5 216v2M447.5 220v2M447.5 225v1M447.5 227v2M447.5 230v1M447.5 232v2M448.5 175v1M448.5 183v1M448.5 186v2M448.5 190v2M448.5 193v2M448.5 196v2M448.5 199v1M448.5 203v2M448.5 206v2M448.5 209v2M448.5 215v1M448.5 217v1M448.5 222v1M448.5 226v1M448.5 228v3M448.5 233v1M449.5 175v2M449.5 180v1M449.5 186v4M449.5 191v1M449.5 194v1M449.5 196v2M449.5 199v1M449.5 202v4M449.5 208v2M449.5 213v2M449.5 218v2M449.5 223v2M449.5 226v3M449.5 231v1M449.5 233v1M450.5 173v1M450.5 175v1M450.5 180v1M450.5 182v1M450.5 186v1M450.5 189v2M450.5 194v1M450.5 196v1M450.5 198v2M450.5 201v2M450.5 209v2M450.5 213v1M450.5 216v2M450.5 219v1M450.5 223v1M450.5 226v3M450.5 231v2M451.5 183v5M451.5 200v1M451.5 203v1M451.5 206v3M451.5 210v1M451.5 212v1M451.5 215v1M451.5 217v3M451.5 221v1M451.5 225v3M451.5 231v3M452.5 187v2M452.5 190v3M452.5 195v1M452.5 199v1M452.5 203v5M452.5 209v1M452.5 211v3M452.5 215v1M452.5 219v1M452.5 222v3M452.5 227v1M452.5 229v3M453.5 187v1M453.5 192v1M453.5 200v2M453.5 204v1M453.5 206v3M453.5 211v3M453.5 217v2M453.5 224v2M453.5 230v1M454.5 164v1M454.5 195v1M454.5 216v2M454.5 219v1M454.5 223v1M454.5 229v1M454.5 233v1M455.5 177v1M455.5 179v1M455.5 210v2M455.5 215v1M455.5 217v1M455.5 225v1M455.5 228v1M455.5 232v1M456.5 167v1M456.5 182v1M456.5 197v1M456.5 219v1M457.5 210v1M457.5 213v1M457.5 215v1M457.5 226v1M457.5 228v1M458.5 193v1M458.5 196v1M458.5 198v1M458.5 210v1M458.5 217v1M458.5 225v1M458.5 231v1M459.5 222v1M459.5 230v1M460.5 188v1M460.5 203v1M460.5 205v1M460.5 219v1M460.5 227v1M461.5 188v1M461.5 214v1M461.5 224v1M462.5 190v1M462.5 223v1M462.5 233v1M463.5 177v1M463.5 202v1M463.5 206v1M463.5 215v1M464.5 175v1M518.5 152v1M518.5 155v1M518.5 168v1M518.5 171v1M519.5 154v1M519.5 160v1M519.5 166v1M519.5 171v1M519.5 178v1M519.5 180v1M519.5 187v1M519.5 190v1M520.5 121v1M520.5 130v1M520.5 132v1M520.5 146v1M520.5 160v1M520.5 164v1M520.5 169v1M520.5 174v1M520.5 177v1M520.5 187v1M520.5 191v1M520.5 197v1M521.5 125v1M521.5 149v2M521.5 156v1M521.5 159v1M521.5 163v1M521.5 169v1M521.5 174v1M521.5 176v1M521.5 179v2M521.5 182v2M521.5 187v1M521.5 190v2M521.5 193v2M521.5 196v1M521.5 202v1M521.5 204v1M521.5 206v1M522.5 103v1M522.5 106v1M522.5 111v3M522.5 121v1M522.5 127v1M522.5 134v1M522.5 155v2M522.5 159v1M522.5 161v1M522.5 164v1M522.5 168v1M522.5 171v2M522.5 174v1M522.5 176v1M522.5 184v1M522.5 186v1M522.5 191v2M522.5 197v1M522.5 199v2M522.5 203v1M522.5 205v1M523.5 109v1M523.5 125v1M523.5 150v1M523.5 156v2M523.5 163v1M523.5 165v2M523.5 171v1M523.5 182v1M523.5 189v1M523.5 191v2M523.5 196v2M523.5 201v1M523.5 205v3M523.5 211v1M523.5 214v1M524.5 106v1M524.5 110v1M524.5 128v1M524.5 133v1M524.5 151v1M524.5 160v1M524.5 163v2M524.5 168v1M524.5 171v4M524.5 178v3M524.5 183v2M524.5 188v1M524.5 197v1M524.5 199v1M524.5 201v1M524.5 205v2M524.5 212v1M524.5 217v1M524.5 222v1M525.5 114v1M525.5 126v1M525.5 129v1M525.5 133v1M525.5 151v1M525.5 154v1M525.5 161v1M525.5 165v1M525.5 170v2M525.5 177v1M525.5 179v1M525.5 183v1M525.5 188v1M525.5 190v1M525.5 197v2M525.5 204v1M525.5 211v2M525.5 215v2M525.5 218v1M526.5 132v1M526.5 135v1M526.5 148v1M526.5 156v2M526.5 164v1M526.5 172v1M526.5 178v1M526.5 184v1M526.5 187v1M526.5 194v1M526.5 197v1M526.5 202v1M526.5 204v1M526.5 210v1M526.5 215v1M526.5 220v1M526.5 222v2M526.5 225v1M526.5 227v1M527.5 122v1M527.5 144v1M527.5 148v1M527.5 151v1M527.5 171v1M527.5 174v2M527.5 179v1M527.5 182v1M527.5 187v1M527.5 194v1M527.5 200v2M527.5 204v1M527.5 216v2M527.5 219v2M527.5 222v2M527.5 226v1M528.5 105v1M528.5 107v1M528.5 115v1M528.5 152v1M528.5 155v1M528.5 163v1M528.5 168v1M528.5 170v1M528.5 172v2M528.5 177v2M528.5 181v1M528.5 183v2M528.5 187v2M528.5 192v1M528.5 198v1M528.5 200v1M528.5 204v2M528.5 216v1M529.5 104v1M529.5 119v1M529.5 133v1M529.5 137v1M529.5 143v1M529.5 150v1M529.5 159v1M529.5 165v1M529.5 167v1M529.5 187v1M529.5 191v1M529.5 200v3M529.5 204v1M529.5 206v1M530.5 131v1M530.5 148v2M530.5 151v2M530.5 158v1M530.5 161v1M530.5 169v1M530.5 171v2M530.5 176v1M530.5 179v1M530.5 181v1M530.5 184v1M530.5 190v1M530.5 193v1M530.5 198v1M530.5 202v1M531.5 141v1M531.5 146v1M531.5 151v1M531.5 154v1M531.5 161v1M531.5 164v1M531.5 166v1M531.5 171v1M531.5 173v2M531.5 181v1M531.5 184v1M531.5 186v1M531.5 190v1M532.5 158v1M532.5 161v2M533.5 152v1M533.5 157v1"/>
<path stroke="#4b277b" d="M366.5 136v1M366.5 149v1M366.5 155v1M366.5 158v2M366.5 161v2M366.5 166v1M366.5 168v1M366.5 170v64M367.5 136v1M367.5 144v1M367.5 149v3M367.5 153v1M367.5 157v1M367.5 159v2M367.5 162v1M367.5 168v1M367.5 171v63M368.5 143v1M368.5 155v1M368.5 158v2M368.5 162v6M368.5 169v1M368.5 172v1M368.5 174v60M369.5 144v1M369.5 150v1M369.5 163v2M369.5 167v1M369.5 170v64M370.5 145v1M370.5 150v1M370.5 152v1M370.5 161v1M370.5 163v1M370.5 165v1M370.5 167v1M370.5 169v1M370.5 173v1M370.5 175v59"/>
<path stroke="#4b0963" d="M371.5 141v1M371.5 156v2M371.5 162v1M371.5 164v1M371.5 167v1M371.5 171v1M371.5 174v60M372.5 144v1M372.5 151v1M372.5 162v1M372.5 164v2M372.5 172v1M372.5 174v60M373.5 138v1M373.5 149v1M373.5 151v2M373.5 157v2M373.5 160v1M373.5 164v1M373.5 166v2M373.5 170v1M373.5 175v59M374.5 154v1M374.5 159v1M374.5 161v1M374.5 163v3M374.5 167v2M374.5 171v63M375.5 137v1M375.5 139v1M375.5 147v4M375.5 153v3M375.5 158v3M375.5 162v1M375.5 164v1M375.5 167v2M375.5 170v1M375.5 172v62M376.5 138v1M376.5 140v1M376.5 153v1M376.5 158v1M376.5 160v3M376.5 164v6M376.5 171v63M377.5 146v1M377.5 150v1M377.5 152v1M377.5 159v2M377.5 166v6M377.5 173v2M377.5 176v58M378.5 153v2M378.5 160v1M378.5 162v1M378.5 165v2M378.5 169v1M378.5 171v3M378.5 175v59M379.5 141v1M379.5 151v2M379.5 156v1M379.5 162v4M379.5 168v5M379.5 175v59M380.5 142v1M380.5 151v1M380.5 158v1M380.5 162v1M380.5 168v1M380.5 174v60M381.5 139v1M381.5 142v1M381.5 147v1M381.5 154v1M381.5 156v3M381.5 161v1M381.5 164v3M381.5 169v1M381.5 172v2M381.5 175v59M382.5 170v2M382.5 174v1M382.5 176v58M383.5 145v1M383.5 150v1M383.5 164v1M383.5 168v2M383.5 172v1M383.5 176v58M384.5 151v1M384.5 158v1M384.5 169v1M384.5 171v1M384.5 175v59M385.5 156v1M385.5 159v1M385.5 166v4M385.5 171v4M385.5 177v57M388.5 155v1M388.5 161v2M388.5 164v1M388.5 167v1M388.5 170v3M388.5 175v59M389.5 159v1M389.5 163v2M389.5 170v4M389.5 175v1M389.5 177v57M390.5 152v2M390.5 163v1M390.5 165v1M390.5 168v2M390.5 172v62M391.5 148v1M391.5 156v1M391.5 160v3M391.5 166v4M391.5 172v1M391.5 174v1M391.5 176v58M392.5 152v1M392.5 169v1M392.5 171v1M392.5 173v61M393.5 152v1M393.5 157v1M393.5 161v1M393.5 172v2M393.5 176v58M394.5 150v1M394.5 152v1M394.5 154v1M394.5 160v1M394.5 164v1M394.5 177v57M395.5 150v1M395.5 157v2M395.5 162v1M395.5 165v1M395.5 168v3M395.5 172v1M395.5 175v59M396.5 165v1M396.5 169v1M396.5 171v2M396.5 175v59M397.5 165v1M397.5 171v1M397.5 174v60M398.5 145v1M398.5 158v1M398.5 165v1M398.5 173v3M398.5 177v57M399.5 149v1M399.5 154v1M399.5 164v1M399.5 166v1M399.5 168v5M399.5 176v58M400.5 135v1M400.5 144v1M400.5 150v2M400.5 161v1M400.5 163v4M400.5 168v4M400.5 173v61M401.5 143v1M401.5 149v3M401.5 154v1M401.5 159v1M401.5 164v1M401.5 169v4M401.5 175v2M401.5 178v56M402.5 137v1M402.5 142v1M402.5 144v1M402.5 153v1M402.5 155v1M402.5 159v2M402.5 163v1M402.5 171v2M402.5 174v1M402.5 176v1M402.5 178v56M403.5 143v1M403.5 153v1M403.5 155v1M403.5 159v2M403.5 162v1M403.5 164v4M403.5 170v1M403.5 172v1M403.5 174v2M403.5 177v57M404.5 184v1M404.5 193v1M404.5 198v1M404.5 211v1M404.5 219v1M405.5 181v1M405.5 183v1M405.5 202v1M406.5 192v1M406.5 194v1M406.5 197v1M406.5 206v1M406.5 216v1M406.5 226v1M407.5 197v1M407.5 223v1M408.5 136v1M408.5 144v1M408.5 152v1M408.5 154v1M408.5 160v2M408.5 164v3M408.5 169v3M408.5 173v2M408.5 176v58M409.5 154v2M409.5 157v1M409.5 159v5M409.5 165v1M409.5 167v6M409.5 174v3M409.5 178v56M410.5 144v1M410.5 146v1M410.5 151v2M410.5 157v3M410.5 162v1M410.5 164v3M410.5 168v8M410.5 178v56M411.5 160v7M411.5 168v1M411.5 171v3M411.5 177v57M412.5 150v2M412.5 161v1M412.5 166v1M412.5 169v1M412.5 171v1M412.5 176v1M412.5 178v1M412.5 180v54M413.5 151v1M413.5 163v1M413.5 166v2M413.5 169v1M413.5 172v1M413.5 174v2M413.5 177v57M414.5 158v1M414.5 163v2M414.5 166v1M414.5 174v4M414.5 179v55M415.5 186v1M415.5 195v1M415.5 197v1M415.5 206v1M415.5 209v1M415.5 221v1M415.5 226v1M416.5 183v1M416.5 193v1M416.5 200v1M416.5 214v1M416.5 217v1M416.5 225v1M417.5 184v1M417.5 195v1M417.5 204v1M417.5 213v1M417.5 226v1M422.5 153v1M422.5 162v1M422.5 166v4M422.5 171v5M422.5 177v4M422.5 186v4M422.5 192v3M422.5 198v1M422.5 200v1M422.5 202v1M422.5 204v1M422.5 207v5M422.5 214v2M422.5 219v1M422.5 221v1M422.5 223v1M422.5 226v3M422.5 230v3M423.5 132v1M423.5 139v2M423.5 145v4M423.5 151v1M423.5 154v5M423.5 160v4M423.5 165v69M424.5 140v2M424.5 150v1M424.5 153v1M424.5 158v2M424.5 161v73M425.5 141v2M425.5 145v1M425.5 151v1M425.5 153v8M425.5 162v5M425.5 168v66M426.5 145v1M426.5 149v1M426.5 153v1M426.5 157v2M426.5 160v1M426.5 162v72M427.5 137v1M427.5 139v1M427.5 146v3M427.5 150v1M427.5 155v1M427.5 157v3M427.5 162v1M427.5 164v2M427.5 167v67M428.5 138v1M428.5 147v3M428.5 152v1M428.5 154v3M428.5 158v1M428.5 160v1M428.5 162v1M428.5 164v70M429.5 139v1M429.5 150v1M429.5 152v6M429.5 160v74M430.5 143v1M430.5 148v1M430.5 150v1M430.5 155v1M430.5 159v5M430.5 165v69M431.5 132v1M431.5 143v1M431.5 146v2M431.5 152v2M431.5 155v1M431.5 157v2M431.5 162v1M431.5 165v69M432.5 135v1M432.5 137v1M432.5 141v4M432.5 146v1M432.5 148v1M432.5 150v1M432.5 152v1M432.5 158v1M432.5 160v5M432.5 166v8M432.5 175v1M432.5 177v6M432.5 185v4M432.5 190v10M432.5 201v2M432.5 204v3M432.5 208v1M432.5 210v3M432.5 214v2M432.5 217v1M432.5 219v4M432.5 224v3M432.5 228v2M432.5 231v2M433.5 136v1M433.5 156v2M433.5 186v1M433.5 188v1M433.5 192v2M433.5 202v1M433.5 204v1M433.5 220v1M433.5 223v1M439.5 181v1M439.5 191v1M439.5 215v1M439.5 222v1M440.5 156v1M440.5 160v2M440.5 168v2M440.5 172v4M440.5 179v5M440.5 186v7M440.5 195v1M440.5 198v5M440.5 204v1M440.5 207v1M440.5 209v1M440.5 211v1M440.5 214v6M440.5 224v2M440.5 227v1M440.5 230v1M440.5 233v1M441.5 156v1M441.5 159v1M441.5 166v2M441.5 169v2M441.5 172v1M441.5 174v34M441.5 209v21M441.5 231v3M442.5 154v1M442.5 156v1M442.5 161v1M442.5 164v1M442.5 167v1M442.5 169v3M442.5 175v1M442.5 177v2M442.5 180v2M442.5 183v2M442.5 186v6M442.5 193v3M442.5 198v2M442.5 201v9M442.5 212v2M442.5 215v9M442.5 226v1M442.5 228v2M442.5 232v1M443.5 152v1M443.5 162v1M443.5 185v1M443.5 189v2M443.5 198v1M443.5 203v1M443.5 217v1M443.5 231v1M444.5 172v1M444.5 188v1M444.5 205v2M444.5 214v1M444.5 219v1M444.5 222v2M444.5 233v1M445.5 172v1M445.5 197v1M445.5 201v1M445.5 209v2M446.5 206v1M446.5 214v1M446.5 224v2M446.5 229v1M446.5 231v1M447.5 186v1M447.5 211v1M447.5 213v1M447.5 219v1M447.5 222v1M447.5 226v1M448.5 185v1M448.5 192v1M448.5 195v1M448.5 214v1M448.5 219v1M448.5 223v1M448.5 225v1M449.5 198v1M449.5 217v1M449.5 220v3M449.5 232v1M450.5 183v2M450.5 187v1M450.5 193v1M450.5 200v1M450.5 211v2M450.5 218v1M450.5 220v3M450.5 225v1M450.5 230v1M451.5 189v2M451.5 196v1M451.5 199v1M451.5 202v1M451.5 204v1M451.5 216v1M451.5 228v3M452.5 198v1M452.5 200v1M452.5 202v1M452.5 210v1M452.5 216v1M452.5 226v1M453.5 214v1M453.5 220v1M453.5 231v3M454.5 180v1M454.5 189v1M454.5 204v1M454.5 210v1M454.5 232v1M455.5 221v1M455.5 223v1M456.5 217v1M456.5 221v1M456.5 224v1M457.5 201v1M457.5 209v1M457.5 218v1M457.5 223v1M458.5 223v1M459.5 179v1M459.5 200v1M459.5 208v1M459.5 212v1M459.5 219v1M459.5 229v1M459.5 233v1M460.5 182v1M460.5 186v1M460.5 195v1M460.5 201v1M460.5 217v1M460.5 220v1M460.5 224v1M461.5 173v1M461.5 190v1M461.5 196v2M461.5 203v1M461.5 207v1M461.5 209v3M461.5 213v1M461.5 215v2M461.5 218v1M461.5 222v1M461.5 225v1M461.5 230v1M461.5 232v1M462.5 196v1M462.5 199v3M462.5 204v3M462.5 209v3M462.5 215v2M462.5 218v3M462.5 222v1M462.5 224v1M462.5 227v1M462.5 229v1M462.5 231v2M463.5 176v1M463.5 184v2M463.5 188v1M463.5 191v1M463.5 201v1M463.5 204v2M463.5 207v1M463.5 210v1M463.5 212v3M463.5 217v3M463.5 224v1M463.5 226v1M463.5 229v2M463.5 233v1M464.5 182v1M464.5 192v1M464.5 194v1M464.5 197v1M464.5 200v1M464.5 203v3M464.5 208v1M464.5 210v24M465.5 182v1M465.5 192v42M466.5 169v1M466.5 181v53M467.5 153v1M467.5 159v2M467.5 163v2M467.5 166v1M467.5 168v1M467.5 170v1M467.5 172v62M468.5 155v1M468.5 160v1M468.5 164v70M469.5 157v1M469.5 162v72M470.5 154v1M470.5 156v1M470.5 160v74M471.5 154v1M471.5 156v1M471.5 158v1M471.5 161v73M472.5 156v1M472.5 161v73M473.5 158v1M473.5 160v1M473.5 164v70M474.5 157v1M474.5 165v69M475.5 155v1M475.5 158v1M475.5 164v1M475.5 166v68M476.5 159v1M476.5 167v67M477.5 161v1M477.5 167v67M478.5 160v1M478.5 163v1M478.5 168v66M479.5 157v1M479.5 160v2M479.5 167v67M480.5 157v1M480.5 166v68M481.5 156v2M481.5 159v1M481.5 165v69M482.5 156v1M482.5 158v1M482.5 160v1M482.5 162v72M483.5 152v1M483.5 154v1M483.5 156v2M483.5 160v74M484.5 159v1M484.5 162v72M485.5 153v2M485.5 156v1M485.5 159v1M485.5 161v73M486.5 154v1M486.5 156v1M486.5 160v74M487.5 159v75M488.5 151v1M488.5 154v1M488.5 159v75M489.5 153v1M489.5 160v74M490.5 153v1M490.5 159v2M490.5 167v2M490.5 171v63M491.5 153v1M491.5 158v1M491.5 166v2M491.5 169v1M491.5 175v1M491.5 181v53M492.5 167v1M492.5 170v1M492.5 177v1M492.5 179v1M492.5 190v44M493.5 169v1M493.5 174v1M493.5 181v1M493.5 190v1M493.5 197v1M493.5 200v34M494.5 171v1M494.5 177v1M494.5 180v1M494.5 184v1M494.5 186v2M494.5 189v1M494.5 194v1M494.5 196v1M494.5 199v1M494.5 201v1M494.5 205v29M495.5 191v2M495.5 205v2M495.5 210v24M496.5 196v1M496.5 198v1M496.5 203v1M496.5 206v1M496.5 210v2M496.5 214v1M496.5 216v18M497.5 204v1M497.5 209v2M497.5 219v15M498.5 209v2M498.5 212v1M498.5 219v1M498.5 222v12M499.5 216v1M499.5 219v1M499.5 222v1M499.5 224v10M500.5 224v10M501.5 222v1M501.5 227v7M502.5 229v5M503.5 229v1M503.5 231v3M504.5 231v3M505.5 232v1M506.5 219v1M506.5 224v1M506.5 227v1M506.5 229v1M507.5 137v1M507.5 189v1M507.5 199v1M507.5 201v1M507.5 226v1M507.5 229v1M508.5 129v1M508.5 136v1M508.5 138v2M508.5 143v1M508.5 158v2M508.5 170v1M508.5 174v2M508.5 178v1M508.5 180v1M508.5 183v1M508.5 187v1M508.5 189v1M508.5 191v1M508.5 198v1M508.5 200v1M508.5 209v1M508.5 211v2M508.5 215v1M508.5 221v1M508.5 223v1M508.5 225v9M509.5 123v1M509.5 127v2M509.5 130v1M509.5 139v3M509.5 149v1M509.5 151v1M509.5 153v3M509.5 160v1M509.5 168v2M509.5 172v1M509.5 174v1M509.5 179v1M509.5 183v3M509.5 188v1M509.5 191v1M509.5 195v1M509.5 199v1M509.5 201v33M510.5 115v22M510.5 140v1M510.5 142v92M511.5 115v25M511.5 144v1M511.5 146v88M512.5 125v18M512.5 146v1M512.5 150v84M513.5 135v13M513.5 152v1M513.5 154v2M513.5 157v77M514.5 141v10M514.5 152v1M514.5 158v1M514.5 160v74M515.5 146v11M515.5 161v73M516.5 153v5M516.5 159v1M516.5 164v4M516.5 169v65M517.5 165v1M517.5 167v1M517.5 173v1M517.5 176v11M517.5 188v46M518.5 163v1M518.5 182v2M518.5 185v1M518.5 188v2M518.5 191v43M519.5 153v1M519.5 155v2M519.5 165v1M519.5 169v1M519.5 199v1M519.5 204v1M519.5 206v28M520.5 152v4M520.5 157v1M520.5 165v1M520.5 172v1M520.5 175v1M520.5 182v1M520.5 205v1M520.5 209v1M520.5 211v23M521.5 157v1M521.5 168v1M521.5 170v2M521.5 181v1M521.5 185v1M521.5 192v1M521.5 195v1M521.5 197v1M521.5 200v1M521.5 213v21M522.5 158v1M522.5 170v1M522.5 173v1M522.5 175v1M522.5 180v4M522.5 187v1M522.5 195v1M522.5 201v2M522.5 206v4M522.5 214v1M522.5 218v16M523.5 152v2M523.5 155v1M523.5 160v2M523.5 173v4M523.5 178v1M523.5 180v1M523.5 188v1M523.5 193v1M523.5 195v1M523.5 198v3M523.5 202v1M523.5 208v1M523.5 212v1M523.5 222v3M523.5 226v8M524.5 150v1M524.5 152v1M524.5 154v1M524.5 156v2M524.5 159v1M524.5 161v2M524.5 166v2M524.5 185v1M524.5 187v1M524.5 192v2M524.5 198v1M524.5 204v1M524.5 207v1M524.5 209v2M524.5 214v3M524.5 218v1M524.5 227v7M525.5 152v1M525.5 159v1M525.5 162v1M525.5 164v1M525.5 166v1M525.5 173v2M525.5 176v1M525.5 181v2M525.5 185v1M525.5 195v1M525.5 202v1M525.5 205v6M525.5 222v2M525.5 229v1M525.5 231v3M526.5 150v1M526.5 153v1M526.5 155v1M526.5 161v1M526.5 163v1M526.5 166v2M526.5 170v1M526.5 173v2M526.5 179v1M526.5 182v1M526.5 188v2M526.5 195v1M526.5 199v1M526.5 203v1M526.5 205v1M526.5 208v1M526.5 214v1M526.5 216v1M526.5 218v1M526.5 221v1M526.5 224v1M526.5 232v1M527.5 150v1M527.5 153v2M527.5 156v2M527.5 161v1M527.5 165v1M527.5 168v3M527.5 173v1M527.5 188v1M527.5 193v1M527.5 195v1M527.5 202v2M527.5 206v4M527.5 212v3M527.5 221v1M527.5 224v1M527.5 232v2M528.5 151v1M528.5 156v1M528.5 158v3M528.5 162v1M528.5 166v1M528.5 174v2M528.5 182v1M528.5 185v1M528.5 190v1M528.5 201v3M528.5 206v2M528.5 209v2M528.5 212v1M528.5 214v1M528.5 223v2M529.5 153v2M529.5 158v1M529.5 161v2M529.5 168v1M529.5 174v1M529.5 176v1M529.5 178v1M529.5 180v1M529.5 193v1M529.5 196v1M529.5 199v1M529.5 203v1M529.5 212v1M529.5 215v1M529.5 224v10M530.5 153v3M530.5 162v1M530.5 165v1M530.5 167v1M530.5 180v1M530.5 185v1M530.5 189v1M530.5 195v1M530.5 199v1M530.5 206v1M530.5 214v20M531.5 152v1M531.5 159v1M531.5 175v1M531.5 191v1M531.5 204v30M532.5 151v2M532.5 155v2M532.5 159v1M532.5 163v1M532.5 194v40M533.5 153v1M533.5 156v1M533.5 159v1M533.5 184v50M534.5 169v2M534.5 174v60M535.5 157v2M535.5 161v2M535.5 164v70M536.5 162v72M537.5 156v78M538.5 148v1M538.5 154v80M539.5 143v1M539.5 148v2M539.5 152v82M540.5 142v1M540.5 147v87M541.5 139v1M541.5 142v2M541.5 145v89M542.5 137v1M542.5 139v1M542.5 141v93M543.5 136v3M543.5 140v94M544.5 139v1M544.5 143v91M545.5 141v1M545.5 145v89M546.5 143v1M546.5 145v89M547.5 149v85M548.5 145v1M548.5 149v1M548.5 153v81M549.5 151v1M549.5 154v80M550.5 152v1M550.5 156v78M551.5 157v1M551.5 159v75M552.5 156v1M552.5 158v1M552.5 162v1M552.5 164v70M553.5 161v3M553.5 165v1M553.5 168v66M554.5 161v2M554.5 168v3M554.5 172v62M555.5 169v1M555.5 171v1M555.5 175v1M555.5 177v57M556.5 176v1M556.5 180v1M556.5 182v52M557.5 180v1M557.5 184v1M557.5 186v1M557.5 190v1M557.5 192v42M558.5 180v1M558.5 184v2M558.5 188v1M558.5 190v1M558.5 197v1M558.5 201v33M559.5 187v1M559.5 194v1M559.5 196v1M559.5 199v1M559.5 203v1M559.5 206v28M560.5 195v1M560.5 206v1M560.5 209v25M561.5 206v28M562.5 203v31M563.5 167v1M563.5 194v40M564.5 165v2M564.5 174v60M565.5 165v2M565.5 169v65M566.5 162v1M566.5 167v67M567.5 164v1M567.5 167v67M568.5 163v3M568.5 169v65M569.5 166v2M569.5 169v1M569.5 172v62M570.5 171v2M570.5 174v60M571.5 123v1M571.5 136v1M571.5 138v1M571.5 172v2M571.5 181v1M571.5 183v51M572.5 116v1M572.5 126v2M572.5 135v99M573.5 106v1M573.5 118v116M574.5 103v2M574.5 108v126M575.5 107v2M575.5 112v98M575.5 224v10M576.5 112v1M576.5 115v1M576.5 118v85M576.5 223v11M577.5 113v1M577.5 121v1M577.5 124v72M577.5 208v1M577.5 218v16M578.5 119v1M578.5 122v1M578.5 128v2M578.5 131v1M578.5 136v1M578.5 141v1M578.5 143v1M578.5 146v36M578.5 186v1M578.5 188v1M578.5 193v1M578.5 199v1M578.5 203v1M578.5 207v1M578.5 211v1M578.5 214v20M579.5 128v1M579.5 132v2M579.5 136v2M579.5 144v1M579.5 152v1M579.5 157v1M579.5 164v2M579.5 175v2M579.5 180v2M579.5 183v1M579.5 186v2M579.5 191v1M579.5 199v2M579.5 206v1M579.5 208v2M579.5 212v22M580.5 161v1M580.5 174v2M580.5 177v1M580.5 184v1M580.5 186v1M580.5 205v1M580.5 209v25M581.5 207v27M582.5 204v1M582.5 207v27M583.5 208v26M584.5 207v1M584.5 210v1M584.5 213v21M585.5 212v2M585.5 217v1M585.5 219v15M586.5 212v1M586.5 216v1M586.5 222v1M586.5 224v10M587.5 221v1M587.5 227v7M588.5 222v12M589.5 217v17M590.5 211v2M590.5 214v20M591.5 209v1M591.5 212v22M592.5 202v1M592.5 208v26M593.5 202v4M593.5 207v27M594.5 202v2M594.5 206v28M595.5 202v1M595.5 204v1M595.5 207v27M596.5 203v2M596.5 207v27M597.5 208v2M597.5 211v23M598.5 208v1M598.5 212v22"/>
<path stroke="#277b8d" d="M386.5 148v1M387.5 149v1M387.5 157v1M387.5 175v1M388.5 143v1M388.5 174v1M389.5 140v1M389.5 161v1M392.5 166v1M393.5 150v1M393.5 166v1M395.5 167v1M395.5 171v1M396.5 166v1M397.5 146v1M397.5 152v2M397.5 169v1M398.5 156v1M398.5 167v1M400.5 156v1M401.5 129v1M401.5 133v1M401.5 152v1M401.5 174v1M410.5 154v1M411.5 152v1M411.5 167v1M412.5 172v1M415.5 168v1M416.5 163v1M416.5 174v1M509.5 136v1M510.5 137v3M510.5 141v1M511.5 140v4M511.5 145v1M512.5 143v3M512.5 147v3M513.5 148v4M513.5 153v1M513.5 156v1M514.5 151v1M514.5 153v5M514.5 159v1M515.5 157v4"/>
<path stroke="#4b2175" d="M386.5 153v1M386.5 157v1M386.5 160v3M386.5 170v1M386.5 172v2M386.5 176v58M387.5 145v1M387.5 153v1M387.5 159v2M387.5 162v1M387.5 165v4M387.5 176v58"/>
<path stroke="#6fcf51" d="M402.5 126v1M402.5 140v1M402.5 154v1M402.5 156v2M402.5 164v2M402.5 167v2M403.5 131v1M403.5 138v1M403.5 147v1M403.5 149v1M403.5 152v1M403.5 154v1M403.5 157v1M404.5 152v1M404.5 161v1M405.5 157v1M405.5 173v1M406.5 138v1M406.5 149v1M406.5 157v1M406.5 161v1M406.5 167v1M407.5 124v1M407.5 131v1M407.5 148v1M407.5 153v1M407.5 155v1M408.5 145v1M409.5 134v1M409.5 137v1M409.5 151v1M409.5 164v1"/>
<path stroke="#6f1b99" d="M432.5 154v1M432.5 165v1M432.5 174v1M432.5 176v1M432.5 183v2M432.5 189v1M432.5 200v1M432.5 203v1M432.5 207v1M432.5 209v1M432.5 213v1M432.5 216v1M432.5 218v1M432.5 223v1M432.5 227v1M432.5 230v1M432.5 233v1M433.5 142v1M433.5 148v2M433.5 153v3M433.5 158v1M433.5 160v26M433.5 187v1M433.5 189v3M433.5 194v2M433.5 197v5M433.5 203v1M433.5 205v15M433.5 222v1M433.5 224v10M434.5 42v1M434.5 53v1M434.5 62v1M434.5 80v1M434.5 90v1M434.5 108v1M434.5 118v1M434.5 122v2M434.5 127v6M434.5 134v1M434.5 136v7M434.5 144v34M434.5 179v10M434.5 190v26M434.5 217v17M435.5 27v1M435.5 34v1M435.5 38v1M435.5 40v1M435.5 43v3M435.5 48v4M435.5 53v1M435.5 55v1M435.5 57v1M435.5 61v6M435.5 69v8M435.5 78v20M435.5 99v17M435.5 117v2M435.5 120v17M435.5 138v78M435.5 217v17M436.5 22v1M436.5 27v1M436.5 30v1M436.5 32v1M436.5 34v5M436.5 40v2M436.5 43v7M436.5 52v18M436.5 71v14M436.5 86v53M436.5 140v20M437.5 22v3M437.5 27v3M437.5 31v2M437.5 34v1M437.5 36v24"/>
<path stroke="#5d2187" d="M435.5 12v1M436.5 6v1M436.5 9v1M436.5 14v1M436.5 16v1M436.5 19v2M436.5 23v1M436.5 26v1M436.5 28v1M436.5 31v1M436.5 33v1M437.5 7v1M437.5 15v1M437.5 17v1M438.5 5v1M438.5 8v1M438.5 12v1M438.5 17v3M438.5 32v1M439.5 8v1M439.5 13v2M439.5 22v1M439.5 24v1M439.5 28v1M439.5 35v1M440.5 8v1M440.5 12v1M440.5 21v1M440.5 23v2M441.5 15v1"/>
<path stroke="#3f5d99" d="M435.5 14v1M435.5 22v1M436.5 7v2M436.5 10v1M436.5 12v1M436.5 15v1M436.5 17v1M436.5 21v1M436.5 24v2M436.5 29v1M437.5 5v2M437.5 8v1M437.5 11v1M437.5 14v1M437.5 18v1M437.5 25v2M438.5 9v1M438.5 13v2M438.5 16v1M438.5 20v1M438.5 23v1M438.5 26v1M438.5 31v1M438.5 34v1M439.5 7v1M439.5 9v1M439.5 11v2M439.5 17v2M439.5 26v1M439.5 30v1M440.5 10v1M440.5 13v1M440.5 15v1M440.5 19v2M440.5 27v1M440.5 30v1M440.5 32v1M441.5 6v1M441.5 29v2"/>
<path stroke="#63158d" d="M435.5 18v1M435.5 35v1M437.5 10v1M437.5 13v1M437.5 16v1M437.5 19v1M437.5 21v1M437.5 33v1M437.5 35v1M438.5 7v1M438.5 11v1M439.5 5v1M439.5 10v1M439.5 15v1M440.5 5v2M440.5 9v1M440.5 11v1M440.5 14v1M440.5 17v1M440.5 36v1M441.5 16v1M520.5 5v3M520.5 9v4M520.5 16v2M520.5 19v2M520.5 23v2M520.5 29v3M520.5 33v1M520.5 45v1M520.5 47v1M521.5 5v17M521.5 23v17M521.5 41v1M521.5 43v3M521.5 47v1M521.5 51v2M521.5 54v4M521.5 59v2M521.5 62v6M521.5 72v2M521.5 75v1M521.5 77v1M521.5 87v1M521.5 91v1M521.5 93v1M521.5 98v1M522.5 6v4M522.5 11v1M522.5 13v28M522.5 42v35M522.5 78v2M522.5 81v7M522.5 89v5M522.5 95v3M522.5 100v1M523.5 6v5M523.5 13v4M523.5 18v2M523.5 22v5M523.5 28v3M523.5 32v7M523.5 41v10M523.5 52v48M524.5 46v2M524.5 56v1M524.5 58v1M524.5 64v2M524.5 68v4M524.5 74v1M524.5 78v4M524.5 87v3M524.5 91v2M524.5 94v7M525.5 80v1M525.5 83v1M525.5 87v1M525.5 90v1M525.5 94v1M525.5 96v4M526.5 70v1M526.5 73v3M526.5 77v1M526.5 79v1M526.5 81v3M526.5 86v2M526.5 89v11M527.5 10v1M527.5 13v2M527.5 21v1M527.5 27v1M527.5 32v1M527.5 35v1M527.5 37v1M527.5 40v1M527.5 43v2M527.5 47v2M527.5 50v3M527.5 55v3M527.5 59v25M527.5 85v6M527.5 92v8M528.5 5v1M528.5 7v3M528.5 11v10M528.5 22v9M528.5 32v39M528.5 72v17M528.5 90v10M529.5 5v16M529.5 22v20M529.5 45v12M529.5 58v6M529.5 65v17M529.5 83v3M529.5 91v2M530.5 8v1M530.5 10v4M530.5 15v7M530.5 24v30M530.5 55v10M530.5 67v3M530.5 71v1M531.5 5v13M531.5 19v2M531.5 22v1M531.5 24v7M531.5 32v4M531.5 37v1M531.5 40v2M531.5 43v2M531.5 46v1M531.5 51v2M531.5 54v2M531.5 58v1M531.5 62v1M532.5 6v1M532.5 8v2M532.5 12v1M532.5 14v3M532.5 34v1M532.5 43v1"/>
<path stroke="#396f99" d="M435.5 21v1M435.5 36v1M436.5 11v1M436.5 13v1M436.5 18v1M437.5 9v1M437.5 12v1M437.5 20v1M437.5 30v1M438.5 6v1M438.5 10v1M438.5 15v1M438.5 21v2M439.5 6v1M439.5 16v1M439.5 25v1M439.5 29v1M440.5 7v1M440.5 16v1M440.5 18v1M440.5 25v1M440.5 28v1M440.5 31v1M441.5 17v1"/>
<path stroke="#5d1587" d="M436.5 160v16M436.5 177v16M436.5 194v27M436.5 222v12M437.5 60v2M437.5 63v58M437.5 122v6M437.5 129v7M437.5 137v23M437.5 161v1M437.5 163v2M437.5 166v1M437.5 169v1M437.5 171v1M437.5 174v1M437.5 177v1M437.5 182v1M437.5 184v2M437.5 188v1M437.5 190v1M437.5 193v11M437.5 206v2M437.5 209v4M437.5 214v3M437.5 218v5M437.5 224v10M438.5 24v1M438.5 27v4M438.5 33v1M438.5 35v14M438.5 50v30M438.5 81v9M438.5 91v41M438.5 133v31M438.5 166v2M438.5 169v1M438.5 172v2M438.5 176v2M438.5 179v1M438.5 181v3M438.5 185v2M438.5 188v7M438.5 196v10M438.5 207v2M438.5 210v5M438.5 216v3M438.5 220v6M438.5 227v1M438.5 229v5M439.5 21v1M439.5 23v1M439.5 27v1M439.5 31v4M439.5 38v1M439.5 40v7M439.5 49v2M439.5 52v8M439.5 61v1M439.5 63v2M439.5 66v17M439.5 84v17M439.5 102v29M439.5 132v16M439.5 149v10M439.5 160v1M439.5 162v2M439.5 165v1M439.5 167v2M439.5 170v1M439.5 172v5M439.5 178v1M439.5 183v1M439.5 185v3M439.5 189v2M439.5 192v8M439.5 201v5M439.5 207v1M439.5 209v1M439.5 211v2M439.5 216v3M439.5 220v2M439.5 223v10M440.5 26v1M440.5 29v1M440.5 33v3M440.5 37v1M440.5 41v4M440.5 46v1M440.5 49v4M440.5 54v1M440.5 59v1M440.5 61v1M440.5 71v1M440.5 73v1M440.5 75v1M440.5 86v2M440.5 96v2M440.5 100v1M440.5 102v2M440.5 105v1M440.5 111v2M440.5 118v1M440.5 131v2M440.5 134v1M440.5 141v2M440.5 144v2M440.5 147v2M440.5 151v5M440.5 159v1M440.5 162v2M440.5 165v3M440.5 170v1M440.5 178v1M440.5 185v1M440.5 193v2M440.5 196v2M440.5 203v1M440.5 205v2M440.5 208v1M440.5 212v2M440.5 220v3M440.5 226v1M440.5 228v2M440.5 231v2M441.5 22v1M441.5 42v1M441.5 230v1"/>
<path stroke="#336f99" d="M436.5 176v1M437.5 160v1M437.5 162v1M437.5 165v1M437.5 167v2M437.5 170v1M437.5 172v2M437.5 175v2M437.5 178v1M437.5 180v2M437.5 183v1M437.5 186v2M437.5 189v1M437.5 191v1M437.5 204v2M437.5 213v1M437.5 223v1M438.5 164v2M438.5 168v1M438.5 170v2M438.5 174v2M438.5 178v1M438.5 180v1M438.5 187v1M438.5 195v1M438.5 215v1M438.5 226v1M438.5 228v1M439.5 19v2M439.5 36v2M439.5 47v2M439.5 65v1M439.5 83v1M439.5 159v1M439.5 161v1M439.5 164v1M439.5 166v1M439.5 169v1M439.5 171v1M439.5 177v1M439.5 179v2M439.5 182v1M439.5 188v1M439.5 208v1M439.5 210v1M439.5 213v2M440.5 40v1M440.5 60v1M440.5 72v1M440.5 79v1M440.5 101v1M440.5 121v1M440.5 140v1M440.5 149v2M440.5 164v1M440.5 171v1M440.5 176v1M440.5 184v1M441.5 26v1M441.5 37v1M441.5 39v2M441.5 95v1M441.5 143v1M441.5 151v1"/>
<path stroke="#3f4593" d="M443.5 171v1M444.5 187v1M444.5 200v1M444.5 207v1M444.5 209v1M444.5 218v1M444.5 220v2M444.5 225v1M444.5 228v1M444.5 232v1M445.5 170v1M445.5 173v1M445.5 179v1M445.5 194v1M445.5 196v1M445.5 198v1M445.5 206v2M445.5 218v1M445.5 224v2M445.5 227v1M445.5 232v1M446.5 176v1M446.5 189v1M446.5 199v1M446.5 202v2M446.5 207v1M446.5 215v1M446.5 220v1M446.5 228v1M447.5 191v1M447.5 195v1M447.5 200v1M447.5 206v1M447.5 209v1M447.5 215v1M447.5 231v1M448.5 179v1M448.5 200v1M448.5 205v1M448.5 213v1M448.5 218v1M448.5 220v1M448.5 231v2M449.5 185v1M449.5 192v1M449.5 206v1M449.5 210v1M449.5 212v1M449.5 216v1M449.5 225v1M449.5 229v2M450.5 176v1M450.5 179v1M450.5 203v2M450.5 206v1M450.5 214v2M450.5 229v1M450.5 233v1M451.5 175v1M451.5 192v3M451.5 205v1M451.5 211v1M451.5 220v1M451.5 223v2M452.5 185v1M452.5 197v1M452.5 218v1M452.5 220v1M452.5 225v1M452.5 232v1M453.5 193v2M453.5 198v1M453.5 202v2M453.5 210v1M453.5 215v2M453.5 223v1M453.5 227v2M454.5 212v1M454.5 220v1M454.5 222v1M454.5 225v1M454.5 228v1M454.5 230v1M455.5 200v1M455.5 202v1M455.5 233v1M457.5 182v1M458.5 188v1M458.5 190v1M458.5 203v1M458.5 212v1M458.5 214v1M458.5 219v1M458.5 229v1M459.5 183v1M459.5 199v1M460.5 215v1M461.5 176v1M461.5 192v1M461.5 221v1M462.5 188v1M464.5 185v1M464.5 209v1"/>
<path stroke="#27998d" d="M516.5 141v1M516.5 146v1M516.5 150v1M516.5 152v1M516.5 158v1M516.5 160v4M516.5 168v1M517.5 143v1M517.5 154v1M517.5 156v1M517.5 160v5M517.5 166v1M517.5 169v4M517.5 174v2M517.5 187v1M518.5 151v1M518.5 157v1M518.5 160v2M518.5 165v1M518.5 167v1M518.5 169v2M518.5 172v2M518.5 175v2M518.5 178v4M518.5 184v1M518.5 186v2M518.5 190v1M519.5 174v3M519.5 179v1M519.5 184v2M519.5 188v2M519.5 192v7M519.5 200v4M519.5 205v1M520.5 184v1M520.5 188v1M520.5 190v1M520.5 192v3M520.5 196v1M520.5 198v7M520.5 206v3M520.5 210v1M521.5 203v1M521.5 207v6M522.5 210v4M522.5 215v3M523.5 213v1M523.5 215v7M523.5 225v1M524.5 219v3M524.5 223v4M525.5 224v1M525.5 226v3M525.5 230v1M526.5 226v1M526.5 228v4M526.5 233v1M527.5 225v1M527.5 227v1M527.5 230v2M528.5 217v1M528.5 220v3M528.5 225v1M528.5 227v5M529.5 209v2M529.5 213v2M529.5 217v7M530.5 192v1M530.5 197v1M530.5 200v1M530.5 203v3M530.5 207v6M531.5 180v1M531.5 182v2M531.5 185v1M531.5 187v3M531.5 192v12M532.5 167v1M532.5 170v6M532.5 177v4M532.5 182v1M532.5 184v10M533.5 163v2M533.5 166v1M533.5 173v3M533.5 177v1M533.5 181v1M534.5 160v1M534.5 162v1M534.5 165v4M535.5 160v1"/>
<path stroke="#3f338d" d="M517.5 158v2M517.5 168v1M518.5 153v2M518.5 156v1M518.5 159v1M518.5 162v1M518.5 166v1M519.5 150v3M519.5 157v3M519.5 161v4M519.5 167v2M519.5 170v1M519.5 172v2M519.5 177v1M519.5 183v1M519.5 186v1M519.5 191v1M520.5 150v2M520.5 156v1M520.5 158v2M520.5 161v3M520.5 166v3M520.5 170v1M520.5 173v1M520.5 176v1M520.5 178v1M520.5 180v2M520.5 185v2M520.5 189v1M520.5 195v1M521.5 152v1M521.5 154v2M521.5 158v1M521.5 160v3M521.5 164v3M521.5 172v2M521.5 175v1M521.5 177v2M521.5 184v1M521.5 188v2M521.5 198v2M521.5 201v1M521.5 205v1M522.5 150v5M522.5 157v1M522.5 160v1M522.5 162v1M522.5 166v2M522.5 177v3M522.5 189v2M522.5 193v2M522.5 196v1M522.5 198v1M522.5 204v1M523.5 151v1M523.5 158v2M523.5 164v1M523.5 168v3M523.5 172v1M523.5 177v1M523.5 179v1M523.5 181v1M523.5 183v5M523.5 194v1M523.5 203v2M523.5 209v2M524.5 153v1M524.5 155v1M524.5 158v1M524.5 165v1M524.5 169v2M524.5 175v3M524.5 181v2M524.5 186v1M524.5 189v3M524.5 194v3M524.5 202v2M524.5 208v1M524.5 211v1M524.5 213v1M525.5 155v4M525.5 160v1M525.5 163v1M525.5 167v3M525.5 172v1M525.5 175v1M525.5 178v1M525.5 186v1M525.5 189v1M525.5 191v4M525.5 196v1M525.5 199v3M525.5 203v1M525.5 213v2M525.5 217v1M525.5 219v3M525.5 225v1M526.5 151v1M526.5 154v1M526.5 158v3M526.5 162v1M526.5 165v1M526.5 168v2M526.5 171v1M526.5 177v1M526.5 181v1M526.5 183v1M526.5 185v2M526.5 190v2M526.5 196v1M526.5 198v1M526.5 200v2M526.5 206v2M526.5 209v1M526.5 211v3M526.5 217v1M526.5 219v1M527.5 152v1M527.5 158v1M527.5 163v2M527.5 167v1M527.5 172v1M527.5 176v3M527.5 181v1M527.5 183v4M527.5 189v2M527.5 192v1M527.5 197v3M527.5 205v1M527.5 210v2M527.5 215v1M527.5 218v1M527.5 228v2M528.5 150v1M528.5 153v2M528.5 157v1M528.5 161v1M528.5 165v1M528.5 167v1M528.5 169v1M528.5 171v1M528.5 176v1M528.5 179v2M528.5 186v1M528.5 189v1M528.5 191v1M528.5 194v2M528.5 199v1M528.5 208v1M528.5 211v1M528.5 213v1M528.5 215v1M528.5 218v2M528.5 226v1M529.5 151v2M529.5 156v2M529.5 160v1M529.5 163v1M529.5 166v1M529.5 169v2M529.5 172v2M529.5 175v1M529.5 177v1M529.5 179v1M529.5 181v6M529.5 188v3M529.5 192v1M529.5 194v2M529.5 197v2M529.5 205v1M529.5 207v2M529.5 211v1M529.5 216v1M530.5 150v1M530.5 156v2M530.5 159v2M530.5 163v2M530.5 174v2M530.5 182v2M530.5 186v3M530.5 191v1M530.5 196v1M530.5 201v1M531.5 150v1M531.5 155v3M531.5 162v2M531.5 167v1M531.5 169v2M531.5 172v1M531.5 176v4M532.5 154v1M532.5 165v1M532.5 176v1M532.5 181v1M532.5 183v1M533.5 155v1M533.5 160v2M533.5 178v1"/>
<path stroke="#452787" d="M518.5 148v1M519.5 144v1M520.5 128v1M520.5 142v2M521.5 117v1M522.5 104v1M522.5 142v1M523.5 149v1M524.5 143v1M527.5 110v1M527.5 120v1M527.5 123v1M527.5 125v1M528.5 106v1M528.5 125v1M528.5 134v1M529.5 136v1"/>
<path stroke="#570f75" d="M518.5 149v1M519.5 136v1M519.5 139v1M519.5 141v1M519.5 143v1M519.5 146v4M520.5 117v1M520.5 123v5M520.5 129v1M520.5 131v1M520.5 133v3M520.5 137v2M520.5 140v2M520.5 144v2M520.5 148v2M521.5 105v2M521.5 110v2M521.5 113v4M521.5 118v7M521.5 126v7M521.5 134v12M521.5 147v2M522.5 101v2M522.5 105v1M522.5 107v4M522.5 114v7M522.5 122v5M522.5 128v2M522.5 131v3M522.5 135v7M522.5 143v7M523.5 100v9M523.5 110v15M523.5 126v16M523.5 143v6M524.5 101v5M524.5 107v2M524.5 111v15M524.5 127v1M524.5 130v3M524.5 134v1M524.5 136v7M524.5 144v6M525.5 100v14M525.5 115v1M525.5 117v9M525.5 127v2M525.5 130v1M525.5 132v1M525.5 134v7M525.5 142v5M525.5 148v2M526.5 100v4M526.5 105v27M526.5 133v2M526.5 136v12M526.5 149v1M527.5 100v3M527.5 104v6M527.5 111v2M527.5 114v3M527.5 119v1M527.5 121v1M527.5 126v12M527.5 139v2M527.5 142v2M527.5 145v3M527.5 149v1M528.5 100v5M528.5 108v7M528.5 116v1M528.5 118v1M528.5 120v5M528.5 126v4M528.5 131v3M528.5 135v15M529.5 110v1M529.5 112v1M529.5 115v1M529.5 117v1M529.5 120v7M529.5 128v2M529.5 131v2M529.5 134v2M529.5 138v1M529.5 140v3M529.5 144v6M530.5 125v2M530.5 128v2M530.5 132v2M530.5 136v12M531.5 142v4M531.5 147v2"/>
<path stroke="#394593" d="M518.5 158v1M518.5 164v1M518.5 174v1M518.5 177v1M519.5 181v2M520.5 171v1M520.5 179v1M520.5 183v1M521.5 151v1M521.5 153v1M521.5 167v1M521.5 186v1M522.5 163v1M522.5 165v1M522.5 169v1M522.5 185v1M522.5 188v1M523.5 154v1M523.5 162v1M523.5 167v1M523.5 190v1M524.5 200v1M525.5 150v1M525.5 153v1M525.5 180v1M525.5 184v1M525.5 187v1M526.5 152v1M526.5 175v2M526.5 180v1M526.5 192v2M527.5 155v1M527.5 159v2M527.5 162v1M527.5 166v1M527.5 180v1M527.5 191v1M527.5 196v1M528.5 164v1M528.5 193v1M528.5 196v2M529.5 155v1M529.5 164v1M529.5 171v1M530.5 166v1M530.5 168v1M530.5 170v1M530.5 173v1M530.5 177v2M530.5 194v1M531.5 149v1M531.5 153v1M531.5 158v1M531.5 160v1M531.5 165v1M531.5 168v1M532.5 157v1M532.5 166v1M532.5 168v1"/></g></g>
<line x1="352.2" x2="599.45" y1="233.6" y2="233.6" stroke="#000" stroke-opacity="0.3" stroke-width="0.8"/>
<text x="35.6" y="237.6" font-size="10" text-anchor="end" textLength="5" lengthAdjust="spacingAndGlyphs">0</text>
<text x="41.5" y="209.0" font-size="10" text-anchor="end" textLength="16.8" lengthAdjust="spacingAndGlyphs">0.05</text>
<text x="41.5" y="180.3" font-size="10" text-anchor="end" textLength="16.8" lengthAdjust="spacingAndGlyphs">0.10</text>
<text x="41.5" y="151.7" font-size="10" text-anchor="end" textLength="16.8" lengthAdjust="spacingAndGlyphs">0.15</text>
<text x="41.5" y="123.1" font-size="10" text-anchor="end" textLength="16.8" lengthAdjust="spacingAndGlyphs">0.20</text>
<text x="41.5" y="94.5" font-size="10" text-anchor="end" textLength="16.8" lengthAdjust="spacingAndGlyphs">0.25</text>
<text x="41.5" y="65.8" font-size="10" text-anchor="end" textLength="16.8" lengthAdjust="spacingAndGlyphs">0.30</text>
<text x="41.5" y="37.2" font-size="10" text-anchor="end" textLength="16.8" lengthAdjust="spacingAndGlyphs">0.35</text>
<text x="41.5" y="8.6" font-size="10" text-anchor="end" textLength="16.8" lengthAdjust="spacingAndGlyphs">0.40</text>
<text x="51.3" y="245" font-size="10" text-anchor="middle" textLength="11.6" lengthAdjust="spacingAndGlyphs">3.2</text>
<text x="111.0" y="245" font-size="10" text-anchor="middle" textLength="11.6" lengthAdjust="spacingAndGlyphs">4.2</text>
<text x="170.7" y="245" font-size="10" text-anchor="middle" textLength="11.6" lengthAdjust="spacingAndGlyphs">5.2</text>
<text x="230.5" y="245" font-size="10" text-anchor="middle" textLength="11.6" lengthAdjust="spacingAndGlyphs">6.2</text>
<text x="290.2" y="245" font-size="10" text-anchor="middle" textLength="11.6" lengthAdjust="spacingAndGlyphs">7.2</text>
<text x="357.3" y="245" font-size="10" text-anchor="middle" textLength="11.6" lengthAdjust="spacingAndGlyphs">3.2</text>
<text x="417.1" y="245" font-size="10" text-anchor="middle" textLength="11.6" lengthAdjust="spacingAndGlyphs">4.2</text>
<text x="477.0" y="245" font-size="10" text-anchor="middle" textLength="11.6" lengthAdjust="spacingAndGlyphs">5.2</text>
<text x="536.8" y="245" font-size="10" text-anchor="middle" textLength="11.6" lengthAdjust="spacingAndGlyphs">6.2</text>
<text x="596.6" y="245" font-size="10" text-anchor="middle" textLength="11.6" lengthAdjust="spacingAndGlyphs">7.2</text>
<text x="169.5" y="261" font-size="12.2" text-anchor="middle" textLength="113.6" lengthAdjust="spacingAndGlyphs">Semi-Major Axis (au)</text>
<text x="474.7" y="261" font-size="12.2" text-anchor="middle" textLength="113.6" lengthAdjust="spacingAndGlyphs">Semi-Major Axis (au)</text>
<text transform="translate(12.7,115.6) rotate(-90)" font-size="12.8" text-anchor="middle" textLength="58" lengthAdjust="spacingAndGlyphs">Eccentricity</text>
<text transform="translate(655.2,115.6) rotate(90)" font-size="11.6" text-anchor="middle" textLength="169" lengthAdjust="spacingAndGlyphs">Δ Obliquity max-min (degrees)</text>
<rect x="300.5" y="5" width="20" height="229" fill="url(#vir)" stroke="#505050" stroke-width="1"/>
<rect x="607" y="5" width="20" height="229" fill="url(#vir)" stroke="#505050" stroke-width="1"/>
<text x="325.4" y="237.6" font-size="10" textLength="4.6" lengthAdjust="spacingAndGlyphs">0</text>
<line x1="318.5" x2="320.5" y1="157.7" y2="157.7" stroke="#333" stroke-width="1"/>
<text x="325.4" y="161.3" font-size="10" textLength="4.6" lengthAdjust="spacingAndGlyphs">5</text>
<line x1="318.5" x2="320.5" y1="81.3" y2="81.3" stroke="#333" stroke-width="1"/>
<text x="325.4" y="84.9" font-size="10" textLength="9.2" lengthAdjust="spacingAndGlyphs">10</text>
<text x="325.4" y="8.6" font-size="10" textLength="9.2" lengthAdjust="spacingAndGlyphs">15</text>
<line x1="625" x2="627" y1="210.0" y2="210.0" stroke="#333" stroke-width="1"/>
<text x="631.2" y="213.6" font-size="10" textLength="9.4" lengthAdjust="spacingAndGlyphs">10</text>
<line x1="625" x2="627" y1="141.4" y2="141.4" stroke="#333" stroke-width="1"/>
<text x="631.2" y="145.0" font-size="10" textLength="9.4" lengthAdjust="spacingAndGlyphs">20</text>
<line x1="625" x2="627" y1="101.2" y2="101.2" stroke="#333" stroke-width="1"/>
<text x="631.2" y="104.8" font-size="10" textLength="9.4" lengthAdjust="spacingAndGlyphs">30</text>
<line x1="625" x2="627" y1="72.8" y2="72.8" stroke="#333" stroke-width="1"/>
<text x="631.2" y="76.4" font-size="10" textLength="9.4" lengthAdjust="spacingAndGlyphs">40</text>
<line x1="625" x2="627" y1="50.7" y2="50.7" stroke="#333" stroke-width="1"/>
<text x="631.2" y="54.3" font-size="10" textLength="9.4" lengthAdjust="spacingAndGlyphs">50</text>
<line x1="625" x2="627" y1="32.6" y2="32.6" stroke="#333" stroke-width="1"/>
<text x="631.2" y="36.2" font-size="10" textLength="9.4" lengthAdjust="spacingAndGlyphs">60</text>
<line x1="625" x2="627" y1="17.4" y2="17.4" stroke="#333" stroke-width="1"/>
<text x="631.2" y="21.0" font-size="10" textLength="9.4" lengthAdjust="spacingAndGlyphs">70</text>
<text x="631.2" y="7.7" font-size="10" textLength="9.4" lengthAdjust="spacingAndGlyphs">80</text>
<text class="w" x="51.2" y="17.1" font-size="13.2" textLength="13.2" lengthAdjust="spacingAndGlyphs">(a)</text>
<text class="w" x="357.8" y="17.1" font-size="13.2" textLength="13.4" lengthAdjust="spacingAndGlyphs">(b)</text>
<rect x="136.5" y="7.3" width="8.2" height="8.6" fill="#fff"/><text x="140.6" y="14.3" font-size="9.6" text-anchor="middle" style="fill:#111;stroke:#111;stroke-width:0.15px">b</text>
<circle cx="132" cy="6.2" r="3" fill="none" stroke="#ff1aff" stroke-width="1.1"/>
<rect x="441.1" y="7.3" width="8.2" height="8.6" fill="#fff"/><text x="445.2" y="14.3" font-size="9.6" text-anchor="middle" style="fill:#111;stroke:#111;stroke-width:0.15px">b</text>
<circle cx="437.8" cy="6.2" r="3" fill="none" stroke="#ff1aff" stroke-width="1.1"/>
<rect x="173.1" y="195.6" width="8.1" height="8.4" fill="#fff"/><text x="177.15" y="202.4" font-size="9.6" text-anchor="middle" style="fill:#111;stroke:#111;stroke-width:0.15px">a</text>
<circle cx="169.6" cy="205.9" r="3.3" fill="none" stroke="#e8102a" stroke-width="1.1"/>
<rect x="479.1" y="195.6" width="8.1" height="8.4" fill="#fff"/><text x="483.15" y="202.4" font-size="9.6" text-anchor="middle" style="fill:#111;stroke:#111;stroke-width:0.15px">a</text>
<circle cx="476" cy="205.9" r="3.3" fill="none" stroke="#e8102a" stroke-width="1.1"/>
<rect x="40.5" y="221" width="6" height="8.4" fill="#fff"/><text x="43.5" y="227.8" font-size="9.6" text-anchor="middle" style="fill:#111;stroke:#111;stroke-width:0.15px">c</text>
<rect x="48.7" y="221" width="7.7" height="8.4" fill="#fff"/><text x="52.55" y="227.8" font-size="9.6" text-anchor="middle" style="fill:#111;stroke:#111;stroke-width:0.15px">d</text>
<rect x="345.5" y="221" width="6.5" height="8.4" fill="#fff"/><text x="348.75" y="227.8" font-size="9.6" text-anchor="middle" style="fill:#111;stroke:#111;stroke-width:0.15px">c</text>
<rect x="353.9" y="221" width="8.1" height="8.4" fill="#fff"/><text x="357.95" y="227.8" font-size="9.6" text-anchor="middle" style="fill:#111;stroke:#111;stroke-width:0.15px">d</text>
<circle cx="45.3" cy="233.7" r="2.7" fill="none" stroke="#ff1aff" stroke-width="1.1"/>
<circle cx="50.1" cy="233.7" r="2.7" fill="none" stroke="#ff1aff" stroke-width="1.1"/>
<circle cx="351.6" cy="233.7" r="2.7" fill="none" stroke="#ff1aff" stroke-width="1.1"/>
<circle cx="356.2" cy="233.7" r="2.7" fill="none" stroke="#ff1aff" stroke-width="1.1"/>
</svg></body></html>
